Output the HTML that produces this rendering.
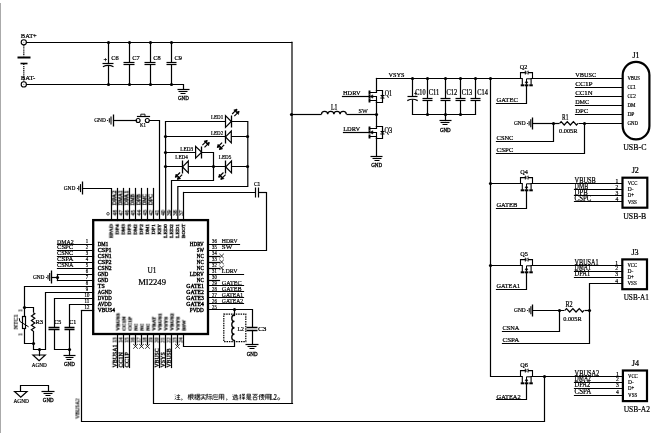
<!DOCTYPE html>
<html><head><meta charset="utf-8"><style>
html,body{margin:0;padding:0;background:#fff;}
svg{display:block;}
text{will-change:transform;}
text{font-family:"Liberation Serif",serif;stroke:#000;stroke-width:0.24px;}
</style></head><body>
<svg width="654" height="433" viewBox="0 0 654 433">
<rect width="654" height="433" fill="#fff"/>
<rect x="0" y="3" width="1" height="430" fill="#aaa"/>
<circle cx="23.8" cy="42.3" r="2.6" fill="none" stroke="#000" stroke-width="1.1"/>
<circle cx="23.8" cy="42.3" r="0.6" fill="#888"/>
<circle cx="23.8" cy="84.4" r="2.6" fill="none" stroke="#000" stroke-width="1.1"/>
<circle cx="23.8" cy="84.4" r="0.6" fill="#888"/>
<path d="M23.8 45.2 L23.8 56.2" stroke="#000" stroke-width="1.2" fill="none" stroke-linecap="butt" stroke-dasharray="1.3 0.8"/>
<path d="M23.8 63.8 L23.8 81.6" stroke="#000" stroke-width="1.2" fill="none" stroke-linecap="butt" stroke-dasharray="1.3 0.8"/>
<path d="M17.5 57.5 L30.5 57.5" stroke="#000" stroke-width="2" fill="none" stroke-linecap="butt" />
<path d="M20.5 63.5 L27.5 63.5" stroke="#000" stroke-width="1.6" fill="none" stroke-linecap="butt" />
<text x="20.8" y="38.2" font-size="7" text-anchor="start" fill="#000" textLength="16" lengthAdjust="spacingAndGlyphs">BAT+</text>
<text x="20.8" y="80.2" font-size="7" text-anchor="start" fill="#000" textLength="14.5" lengthAdjust="spacingAndGlyphs">BAT-</text>
<path d="M26.5 42.5 L291.5 42.5" stroke="#000" stroke-width="1.2" fill="none" stroke-linecap="square" />
<path d="M26.5 84.5 L183.5 84.5 L183.5 89.5" stroke="#000" stroke-width="1.2" fill="none" stroke-linecap="square" />
<path d="M177.5 89.5 L189.5 89.5" stroke="#000" stroke-width="1.2" fill="none" stroke-linecap="butt" />
<path d="M178.5 91.5 L187.5 91.5" stroke="#000" stroke-width="1.1" fill="none" stroke-linecap="butt" />
<path d="M180.5 93.5 L185.5 93.5" stroke="#000" stroke-width="1" fill="none" stroke-linecap="butt" />
<text x="183.4" y="100.1" font-size="5.2" text-anchor="middle" fill="#000" textLength="10.8" lengthAdjust="spacingAndGlyphs" style="stroke-width:0.3px">GND</text>
<path d="M108.5 42.5 L108.5 63.5" stroke="#000" stroke-width="1.2" fill="none" stroke-linecap="butt" />
<path d="M108.5 65.5 L108.5 84.5" stroke="#000" stroke-width="1.2" fill="none" stroke-linecap="butt" />
<path d="M102.5 63.5 L113.5 63.5" stroke="#000" stroke-width="1.2" fill="none" stroke-linecap="butt" />
<path d="M102.9 66.8 Q108.2 64 113.5 66.8" stroke="#000" stroke-width="1.2" fill="none" />
<circle cx="108.5" cy="42.5" r="1.6" fill="#000"/>
<circle cx="108.5" cy="84.5" r="1.6" fill="#000"/>
<text x="111.2" y="59.8" font-size="6.6" text-anchor="start" fill="#000" textLength="7.4" lengthAdjust="spacingAndGlyphs">C6</text>
<path d="M129.5 42.5 L129.5 62.5" stroke="#000" stroke-width="1.2" fill="none" stroke-linecap="butt" />
<path d="M129.5 64.5 L129.5 84.5" stroke="#000" stroke-width="1.2" fill="none" stroke-linecap="butt" />
<path d="M123.5 62.5 L134.5 62.5" stroke="#000" stroke-width="1.2" fill="none" stroke-linecap="butt" />
<path d="M123.5 64.5 L134.5 64.5" stroke="#000" stroke-width="1.2" fill="none" stroke-linecap="butt" />
<circle cx="129.5" cy="42.5" r="1.6" fill="#000"/>
<circle cx="129.5" cy="84.5" r="1.6" fill="#000"/>
<text x="132.2" y="59.8" font-size="6.6" text-anchor="start" fill="#000" textLength="7.4" lengthAdjust="spacingAndGlyphs">C7</text>
<path d="M150.5 42.5 L150.5 62.5" stroke="#000" stroke-width="1.2" fill="none" stroke-linecap="butt" />
<path d="M150.5 64.5 L150.5 84.5" stroke="#000" stroke-width="1.2" fill="none" stroke-linecap="butt" />
<path d="M144.5 62.5 L155.5 62.5" stroke="#000" stroke-width="1.2" fill="none" stroke-linecap="butt" />
<path d="M144.5 64.5 L155.5 64.5" stroke="#000" stroke-width="1.2" fill="none" stroke-linecap="butt" />
<circle cx="150.5" cy="42.5" r="1.6" fill="#000"/>
<circle cx="150.5" cy="84.5" r="1.6" fill="#000"/>
<text x="153.2" y="59.8" font-size="6.6" text-anchor="start" fill="#000" textLength="7.4" lengthAdjust="spacingAndGlyphs">C8</text>
<path d="M171.5 42.5 L171.5 62.5" stroke="#000" stroke-width="1.2" fill="none" stroke-linecap="butt" />
<path d="M171.5 64.5 L171.5 84.5" stroke="#000" stroke-width="1.2" fill="none" stroke-linecap="butt" />
<path d="M166.5 62.5 L176.5 62.5" stroke="#000" stroke-width="1.2" fill="none" stroke-linecap="butt" />
<path d="M166.5 64.5 L176.5 64.5" stroke="#000" stroke-width="1.2" fill="none" stroke-linecap="butt" />
<circle cx="171.5" cy="42.5" r="1.6" fill="#000"/>
<circle cx="171.5" cy="84.5" r="1.6" fill="#000"/>
<text x="174.6" y="59.8" font-size="6.6" text-anchor="start" fill="#000" textLength="7.4" lengthAdjust="spacingAndGlyphs">C9</text>
<text x="105.3" y="62.4" font-size="6.6" text-anchor="middle" fill="#000">+</text>
<path d="M291.7 42.3 L292 42.3" stroke="#000" stroke-width="1.2" fill="none" stroke-linecap="square" />
<path d="M292 42.5 L292 403.5" stroke="#000" stroke-width="1.2" fill="none" stroke-linecap="butt" />
<path d="M292.5 403.5 L153.5 403.5 L153.5 334.5" stroke="#000" stroke-width="1.2" fill="none" stroke-linecap="square" />
<path d="M291.5 114.5 L321.5 114.5" stroke="#000" stroke-width="1.2" fill="none" stroke-linecap="butt" />
<path d="M321.5 114.2 C321.5 110.3 327.7 110.3 327.7 114.2 C327.7 110.3 333.9 110.3 333.9 114.2 C333.9 110.3 340.1 110.3 340.1 114.2 C340.1 110.3 346.3 110.3 346.3 114.2" stroke="#000" stroke-width="1.3" fill="none" />
<path d="M346.5 114.5 L376.5 114.5" stroke="#000" stroke-width="1.2" fill="none" stroke-linecap="butt" />
<circle cx="291.5" cy="114.5" r="1.6" fill="#000"/>
<circle cx="376.5" cy="114.5" r="1.6" fill="#000"/>
<text x="331" y="109.8" font-size="7.2" text-anchor="start" fill="#000" textLength="6.4" lengthAdjust="spacingAndGlyphs">L1</text>
<text x="358.5" y="113.4" font-size="7" text-anchor="start" fill="#000" textLength="9.2" lengthAdjust="spacingAndGlyphs">SW</text>
<path d="M376.5 78.5 L376.5 90.5" stroke="#000" stroke-width="1.2" fill="none" stroke-linecap="square" />
<path d="M376.5 90.5 L382.5 90.5 L382.5 102.5 L376.5 102.5" stroke="#000" stroke-width="1.2" fill="none" stroke-linecap="square" />
<path d="M369.5 92.5 L376.5 92.5 L376.5 90.5" stroke="#000" stroke-width="1.2" fill="none" stroke-linecap="square" />
<path d="M369.5 100.5 L376.5 100.5 L376.5 102.5" stroke="#000" stroke-width="1.2" fill="none" stroke-linecap="square" />
<path d="M371.5 96.5 L376.5 96.5 L376.5 102.5" stroke="#000" stroke-width="1.1" fill="none" stroke-linecap="square" />
<path d="M370 96.5 L372.8 94.9 L372.8 98.1 Z" stroke="#000" stroke-width="0.6" fill="#000" />
<path d="M369.5 90.5 L369.5 94.5" stroke="#000" stroke-width="1.9" fill="none" stroke-linecap="butt" />
<path d="M369.5 94.5 L369.5 98.5" stroke="#000" stroke-width="1.9" fill="none" stroke-linecap="butt" />
<path d="M369.5 98.5 L369.5 102.5" stroke="#000" stroke-width="1.9" fill="none" stroke-linecap="butt" />
<path d="M380.5 95.5 L384.5 95.5" stroke="#000" stroke-width="1.1" fill="none" stroke-linecap="butt" />
<path d="M380.6 98.3 L384.2 98.3 L382.4 95.7 Z" stroke="#000" stroke-width="0.7" fill="none" />
<path d="M376.5 102.5 L376.5 126.5" stroke="#000" stroke-width="1.2" fill="none" stroke-linecap="square" />
<path d="M376.5 126.5 L382.5 126.5 L382.5 138.5 L376.5 138.5" stroke="#000" stroke-width="1.2" fill="none" stroke-linecap="square" />
<path d="M369.5 128.5 L376.5 128.5 L376.5 126.5" stroke="#000" stroke-width="1.2" fill="none" stroke-linecap="square" />
<path d="M369.5 136.5 L376.5 136.5 L376.5 138.5" stroke="#000" stroke-width="1.2" fill="none" stroke-linecap="square" />
<path d="M371.5 132.5 L376.5 132.5 L376.5 138.5" stroke="#000" stroke-width="1.1" fill="none" stroke-linecap="square" />
<path d="M370 132.4 L372.8 130.8 L372.8 134 Z" stroke="#000" stroke-width="0.6" fill="#000" />
<path d="M369.5 126.5 L369.5 130.5" stroke="#000" stroke-width="1.9" fill="none" stroke-linecap="butt" />
<path d="M369.5 130.5 L369.5 133.5" stroke="#000" stroke-width="1.9" fill="none" stroke-linecap="butt" />
<path d="M369.5 134.5 L369.5 138.5" stroke="#000" stroke-width="1.9" fill="none" stroke-linecap="butt" />
<path d="M380.5 131.5 L384.5 131.5" stroke="#000" stroke-width="1.1" fill="none" stroke-linecap="butt" />
<path d="M380.6 134.2 L384.2 134.2 L382.4 131.6 Z" stroke="#000" stroke-width="0.7" fill="none" />
<path d="M376.5 138.5 L376.5 156.5" stroke="#000" stroke-width="1.2" fill="none" stroke-linecap="square" />
<path d="M370.5 156.5 L382.5 156.5" stroke="#000" stroke-width="1.2" fill="none" stroke-linecap="butt" />
<path d="M372.5 158.5 L381.5 158.5" stroke="#000" stroke-width="1.1" fill="none" stroke-linecap="butt" />
<path d="M374.5 160.5 L379.5 160.5" stroke="#000" stroke-width="1" fill="none" stroke-linecap="butt" />
<text x="376.6" y="167.1" font-size="5.2" text-anchor="middle" fill="#000" textLength="10.8" lengthAdjust="spacingAndGlyphs" style="stroke-width:0.3px">GND</text>
<path d="M342.5 96.5 L368.5 96.5" stroke="#000" stroke-width="1.2" fill="none" stroke-linecap="square" />
<path d="M343.5 132.5 L368.5 132.5" stroke="#000" stroke-width="1.2" fill="none" stroke-linecap="square" />
<text x="343" y="95" font-size="6.9" text-anchor="start" fill="#000" textLength="17.5" lengthAdjust="spacingAndGlyphs">HDRV</text>
<text x="343.2" y="131" font-size="6.9" text-anchor="start" fill="#000" textLength="17" lengthAdjust="spacingAndGlyphs">LDRV</text>
<text x="384.8" y="96.2" font-size="7.3" text-anchor="start" fill="#000" textLength="7.2" lengthAdjust="spacingAndGlyphs">Q1</text>
<text x="384.6" y="132.6" font-size="7.3" text-anchor="start" fill="#000" textLength="7.6" lengthAdjust="spacingAndGlyphs">Q3</text>
<path d="M376.5 78.5 L622.5 78.5" stroke="#000" stroke-width="1.2" fill="none" stroke-linecap="square" />
<text x="388.5" y="77" font-size="7" text-anchor="start" fill="#000" textLength="16" lengthAdjust="spacingAndGlyphs">VSYS</text>
<path d="M412.5 78.5 L412.5 96.5" stroke="#000" stroke-width="1.2" fill="none" stroke-linecap="butt" />
<path d="M412.5 99.5 L412.5 114.5" stroke="#000" stroke-width="1.2" fill="none" stroke-linecap="butt" />
<path d="M407.5 96.5 L417.5 96.5" stroke="#000" stroke-width="1.2" fill="none" stroke-linecap="butt" />
<path d="M407.3 100.65 Q412.5 97.85 417.7 100.65" stroke="#000" stroke-width="1.2" fill="none" />
<circle cx="412.5" cy="78.5" r="1.6" fill="#000"/>
<path d="M427.5 78.5 L427.5 98.5" stroke="#000" stroke-width="1.2" fill="none" stroke-linecap="butt" />
<path d="M427.5 100.5 L427.5 114.5" stroke="#000" stroke-width="1.2" fill="none" stroke-linecap="butt" />
<path d="M422.5 98.5 L432.5 98.5" stroke="#000" stroke-width="1.2" fill="none" stroke-linecap="butt" />
<path d="M422.5 100.5 L432.5 100.5" stroke="#000" stroke-width="1.2" fill="none" stroke-linecap="butt" />
<circle cx="427.5" cy="78.5" r="1.6" fill="#000"/>
<circle cx="427.5" cy="114.5" r="1.6" fill="#000"/>
<path d="M445.5 78.5 L445.5 98.5" stroke="#000" stroke-width="1.2" fill="none" stroke-linecap="butt" />
<path d="M445.5 100.5 L445.5 114.5" stroke="#000" stroke-width="1.2" fill="none" stroke-linecap="butt" />
<path d="M440.5 98.5 L450.5 98.5" stroke="#000" stroke-width="1.2" fill="none" stroke-linecap="butt" />
<path d="M440.5 100.5 L450.5 100.5" stroke="#000" stroke-width="1.2" fill="none" stroke-linecap="butt" />
<circle cx="445.5" cy="78.5" r="1.6" fill="#000"/>
<circle cx="445.5" cy="114.5" r="1.6" fill="#000"/>
<path d="M460.5 78.5 L460.5 98.5" stroke="#000" stroke-width="1.2" fill="none" stroke-linecap="butt" />
<path d="M460.5 100.5 L460.5 114.5" stroke="#000" stroke-width="1.2" fill="none" stroke-linecap="butt" />
<path d="M455.5 98.5 L465.5 98.5" stroke="#000" stroke-width="1.2" fill="none" stroke-linecap="butt" />
<path d="M455.5 100.5 L465.5 100.5" stroke="#000" stroke-width="1.2" fill="none" stroke-linecap="butt" />
<circle cx="460.5" cy="78.5" r="1.6" fill="#000"/>
<circle cx="460.5" cy="114.5" r="1.6" fill="#000"/>
<path d="M475.5 78.5 L475.5 98.5" stroke="#000" stroke-width="1.2" fill="none" stroke-linecap="butt" />
<path d="M475.5 100.5 L475.5 114.5" stroke="#000" stroke-width="1.2" fill="none" stroke-linecap="butt" />
<path d="M470.5 98.5 L480.5 98.5" stroke="#000" stroke-width="1.2" fill="none" stroke-linecap="butt" />
<path d="M470.5 100.5 L480.5 100.5" stroke="#000" stroke-width="1.2" fill="none" stroke-linecap="butt" />
<circle cx="475.5" cy="78.5" r="1.6" fill="#000"/>
<path d="M412.5 114.5 L475.5 114.5" stroke="#000" stroke-width="1.2" fill="none" stroke-linecap="square" />
<path d="M445.5 114.5 L445.5 120.5" stroke="#000" stroke-width="1.2" fill="none" stroke-linecap="square" />
<path d="M439.5 120.5 L451.5 120.5" stroke="#000" stroke-width="1.2" fill="none" stroke-linecap="butt" />
<path d="M440.5 122.5 L449.5 122.5" stroke="#000" stroke-width="1.1" fill="none" stroke-linecap="butt" />
<path d="M442.5 124.5 L447.5 124.5" stroke="#000" stroke-width="1" fill="none" stroke-linecap="butt" />
<text x="445.3" y="131.5" font-size="5.2" text-anchor="middle" fill="#000" textLength="10.8" lengthAdjust="spacingAndGlyphs" style="stroke-width:0.3px">GND</text>
<text x="415.2" y="95.3" font-size="7.4" text-anchor="start" fill="#000" textLength="10.4" lengthAdjust="spacingAndGlyphs">C10</text>
<text x="428.7" y="95.3" font-size="7.4" text-anchor="start" fill="#000" textLength="10.6" lengthAdjust="spacingAndGlyphs">C11</text>
<text x="446.6" y="95.3" font-size="7.4" text-anchor="start" fill="#000" textLength="10.6" lengthAdjust="spacingAndGlyphs">C12</text>
<text x="461.7" y="95.3" font-size="7.4" text-anchor="start" fill="#000" textLength="10.6" lengthAdjust="spacingAndGlyphs">C13</text>
<text x="477.3" y="95.3" font-size="7.4" text-anchor="start" fill="#000" textLength="10.6" lengthAdjust="spacingAndGlyphs">C14</text>
<text x="415.6" y="95.6" font-size="6" text-anchor="middle" fill="#000" style="stroke-width:0.2px">+</text>
<path d="M490.5 78.5 L490.5 376.5 L622.5 376.5" stroke="#000" stroke-width="1.2" fill="none" stroke-linecap="square" />
<circle cx="490.5" cy="78.5" r="1.6" fill="#000"/>
<circle cx="490.5" cy="183.5" r="1.6" fill="#000"/>
<circle cx="490.5" cy="265.5" r="1.6" fill="#000"/>
<rect x="521.2" y="77.6" width="10.6" height="1.8" fill="#fff"/>
<path d="M520.5 78.5 L520.5 72.6 L525.1 72.6" stroke="#000" stroke-width="1.1" fill="none" stroke-linecap="square" />
<path d="M528.3 72.6 L532.5 72.6 L532.5 78.5" stroke="#000" stroke-width="1.1" fill="none" stroke-linecap="square" />
<path d="M525.3 70.7 L525.3 74.5" stroke="#000" stroke-width="1" fill="none" stroke-linecap="butt" />
<path d="M525.5 72.6 L528.3 70.9 L528.3 74.3 Z" stroke="#000" stroke-width="0.6" fill="none" />
<path d="M520.5 78.5 L522.3 78.5 L522.3 84.7" stroke="#000" stroke-width="1.1" fill="none" stroke-linecap="butt" />
<path d="M532.5 78.5 L531.1 78.5 L531.1 84.7" stroke="#000" stroke-width="1.1" fill="none" stroke-linecap="butt" />
<path d="M531.1 78.8 L526.5 78.8 L526.5 84.7" stroke="#000" stroke-width="1" fill="none" stroke-linecap="butt" />
<path d="M526.5 80.5 L525.1 82.9 L527.9 82.9 Z" stroke="#000" stroke-width="0.5" fill="#000" />
<path d="M520.7 85.3 L524.1 85.3" stroke="#000" stroke-width="2" fill="none" stroke-linecap="butt" />
<path d="M524.6 85.3 L528.4 85.3" stroke="#000" stroke-width="2" fill="none" stroke-linecap="butt" />
<path d="M529.3 85.3 L532.8 85.3" stroke="#000" stroke-width="2" fill="none" stroke-linecap="butt" />
<path d="M526.5 86.5 L526.5 103.5 L496.5 103.5" stroke="#000" stroke-width="1.2" fill="none" stroke-linecap="square" />
<text x="523.6" y="68.6" font-size="6.9" text-anchor="middle" fill="#000" textLength="7.6" lengthAdjust="spacingAndGlyphs">Q2</text>
<text x="496.6" y="101.6" font-size="7.1" text-anchor="start" fill="#000" textLength="21.2" lengthAdjust="spacingAndGlyphs">GATEC</text>
<path d="M575.5 87.5 L622.5 87.5" stroke="#000" stroke-width="1.2" fill="none" stroke-linecap="square" />
<path d="M575.5 96.5 L622.5 96.5" stroke="#000" stroke-width="1.2" fill="none" stroke-linecap="square" />
<path d="M575.5 105.5 L622.5 105.5" stroke="#000" stroke-width="1.2" fill="none" stroke-linecap="square" />
<path d="M575.5 114.5 L622.5 114.5" stroke="#000" stroke-width="1.2" fill="none" stroke-linecap="square" />
<text x="575.2" y="76.9" font-size="7.1" text-anchor="start" fill="#000" textLength="21" lengthAdjust="spacingAndGlyphs">VBUSC</text>
<text x="575.2" y="85.8" font-size="7.1" text-anchor="start" fill="#000" textLength="17.5" lengthAdjust="spacingAndGlyphs">CC1P</text>
<text x="575.2" y="94.7" font-size="7.1" text-anchor="start" fill="#000" textLength="17.5" lengthAdjust="spacingAndGlyphs">CC1N</text>
<text x="575.2" y="103.8" font-size="7.1" text-anchor="start" fill="#000" textLength="14" lengthAdjust="spacingAndGlyphs">DMC</text>
<text x="575.2" y="112.9" font-size="7.1" text-anchor="start" fill="#000" textLength="13" lengthAdjust="spacingAndGlyphs">DPC</text>
<rect x="622.7" y="61.8" width="26.7" height="77.6" rx="13.3" ry="13.3" fill="none" stroke="#000" stroke-width="2.2"/>
<text x="636" y="58.4" font-size="8" text-anchor="middle" fill="#000" textLength="7" lengthAdjust="spacingAndGlyphs">J1</text>
<text x="634.8" y="149.5" font-size="8.8" text-anchor="middle" fill="#000" textLength="23.2" lengthAdjust="spacingAndGlyphs">USB-C</text>
<text x="627.4" y="80.1" font-size="5.4" text-anchor="start" fill="#000" textLength="12.5" lengthAdjust="spacingAndGlyphs" style="stroke-width:0.2px">VBUS</text>
<text x="627.4" y="89" font-size="5.4" text-anchor="start" fill="#000" textLength="8.5" lengthAdjust="spacingAndGlyphs" style="stroke-width:0.2px">CC1</text>
<text x="627.4" y="97.9" font-size="5.4" text-anchor="start" fill="#000" textLength="8.5" lengthAdjust="spacingAndGlyphs" style="stroke-width:0.2px">CC2</text>
<text x="627.4" y="107" font-size="5.4" text-anchor="start" fill="#000" textLength="8" lengthAdjust="spacingAndGlyphs" style="stroke-width:0.2px">DM</text>
<text x="627.4" y="116.1" font-size="5.4" text-anchor="start" fill="#000" textLength="7" lengthAdjust="spacingAndGlyphs" style="stroke-width:0.2px">DP</text>
<text x="627.4" y="125.1" font-size="5.4" text-anchor="start" fill="#000" textLength="10.5" lengthAdjust="spacingAndGlyphs" style="stroke-width:0.2px">GND</text>
<path d="M532.5 117.5 L532.5 129.5" stroke="#000" stroke-width="1.3" fill="none" stroke-linecap="butt" />
<path d="M530.8 119.3 L530.8 127.3" stroke="#000" stroke-width="1.1" fill="none" stroke-linecap="butt" />
<path d="M529.1 121.1 L529.1 125.5" stroke="#000" stroke-width="1" fill="none" stroke-linecap="butt" />
<circle cx="527.5" cy="123.5" r="0.6" fill="#000"/>
<text x="525.6" y="125.3" font-size="5.5" text-anchor="end" fill="#000" textLength="11.6" lengthAdjust="spacingAndGlyphs" style="stroke-width:0.2px">GND</text>
<path d="M532.5 123.5 L559.5 123.5" stroke="#000" stroke-width="1.2" fill="none" stroke-linecap="butt" />
<path d="M559.6 123.3 L561.13 121.6 L564.2 125 L567.27 121.6 L570.33 125 L573.4 121.6 L576.47 125 L578 123.3" stroke="#000" stroke-width="1.2" fill="none" stroke-linecap="butt" stroke-linejoin="miter"/>
<path d="M578.5 123.5 L622.5 123.5" stroke="#000" stroke-width="1.2" fill="none" stroke-linecap="butt" />
<circle cx="553.5" cy="123.5" r="1.6" fill="#000"/>
<circle cx="584.5" cy="123.5" r="1.6" fill="#000"/>
<text x="565.2" y="120.4" font-size="7.6" text-anchor="middle" fill="#000" textLength="6.4" lengthAdjust="spacingAndGlyphs">R1</text>
<text x="568.2" y="133.2" font-size="7" text-anchor="middle" fill="#000" textLength="18.4" lengthAdjust="spacingAndGlyphs">0.005R</text>
<path d="M496.5 141.5 L553.5 141.5 L553.5 123.5" stroke="#000" stroke-width="1.2" fill="none" stroke-linecap="square" />
<path d="M496.5 153.5 L584.5 153.5 L584.5 123.5" stroke="#000" stroke-width="1.2" fill="none" stroke-linecap="square" />
<text x="496.6" y="140.1" font-size="7.1" text-anchor="start" fill="#000" textLength="16.8" lengthAdjust="spacingAndGlyphs">CSNC</text>
<text x="496.6" y="152.3" font-size="7.1" text-anchor="start" fill="#000" textLength="16.8" lengthAdjust="spacingAndGlyphs">CSPC</text>
<path d="M490.5 183.5 L622.5 183.5" stroke="#000" stroke-width="1.2" fill="none" stroke-linecap="square" />
<rect x="521.2" y="182.6" width="10.6" height="1.8" fill="#fff"/>
<path d="M520.5 183.5 L520.5 177.6 L525.1 177.6" stroke="#000" stroke-width="1.1" fill="none" stroke-linecap="square" />
<path d="M528.3 177.6 L532.5 177.6 L532.5 183.5" stroke="#000" stroke-width="1.1" fill="none" stroke-linecap="square" />
<path d="M525.3 175.7 L525.3 179.5" stroke="#000" stroke-width="1" fill="none" stroke-linecap="butt" />
<path d="M525.5 177.6 L528.3 175.9 L528.3 179.3 Z" stroke="#000" stroke-width="0.6" fill="none" />
<path d="M520.5 183.5 L522.3 183.5 L522.3 189.7" stroke="#000" stroke-width="1.1" fill="none" stroke-linecap="butt" />
<path d="M532.5 183.5 L531.1 183.5 L531.1 189.7" stroke="#000" stroke-width="1.1" fill="none" stroke-linecap="butt" />
<path d="M531.1 183.8 L526.5 183.8 L526.5 189.7" stroke="#000" stroke-width="1" fill="none" stroke-linecap="butt" />
<path d="M526.5 185.5 L525.1 187.9 L527.9 187.9 Z" stroke="#000" stroke-width="0.5" fill="#000" />
<path d="M520.7 190.3 L524.1 190.3" stroke="#000" stroke-width="2" fill="none" stroke-linecap="butt" />
<path d="M524.6 190.3 L528.4 190.3" stroke="#000" stroke-width="2" fill="none" stroke-linecap="butt" />
<path d="M529.3 190.3 L532.8 190.3" stroke="#000" stroke-width="2" fill="none" stroke-linecap="butt" />
<path d="M526.5 191.5 L526.5 208.5 L496.5 208.5" stroke="#000" stroke-width="1.2" fill="none" stroke-linecap="square" />
<text x="524" y="174" font-size="6.9" text-anchor="middle" fill="#000" textLength="7.6" lengthAdjust="spacingAndGlyphs">Q4</text>
<text x="496.4" y="206.9" font-size="7.1" text-anchor="start" fill="#000" textLength="21" lengthAdjust="spacingAndGlyphs">GATEB</text>
<path d="M574.5 189.5 L622.5 189.5" stroke="#000" stroke-width="1.2" fill="none" stroke-linecap="square" />
<path d="M574.5 195.5 L622.5 195.5" stroke="#000" stroke-width="1.2" fill="none" stroke-linecap="square" />
<path d="M574.5 201.5 L622.5 201.5" stroke="#000" stroke-width="1.2" fill="none" stroke-linecap="square" />
<text x="574.6" y="182.8" font-size="7.5" text-anchor="start" fill="#000" textLength="21.2" lengthAdjust="spacingAndGlyphs">VBUSB</text>
<text x="574.6" y="188.7" font-size="7.5" text-anchor="start" fill="#000" textLength="13.6" lengthAdjust="spacingAndGlyphs">DMB</text>
<text x="574.6" y="194.8" font-size="7.5" text-anchor="start" fill="#000" textLength="13.2" lengthAdjust="spacingAndGlyphs">DPB</text>
<text x="574.6" y="201" font-size="7.5" text-anchor="start" fill="#000" textLength="16.8" lengthAdjust="spacingAndGlyphs">CSPC</text>
<rect x="622.5" y="177.7" width="24.8" height="30" fill="none" stroke="#000" stroke-width="2.2"/>
<text x="635.3" y="172.9" font-size="8.2" text-anchor="middle" fill="#000" textLength="7.2" lengthAdjust="spacingAndGlyphs">J2</text>
<text x="634.7" y="218.9" font-size="9" text-anchor="middle" fill="#000" textLength="23" lengthAdjust="spacingAndGlyphs">USB-B</text>
<text x="627.7" y="185.4" font-size="5.6" text-anchor="start" fill="#000" textLength="9.6" lengthAdjust="spacingAndGlyphs" style="stroke-width:0.2px">VCC</text>
<text x="627.7" y="191.3" font-size="5.6" text-anchor="start" fill="#000" textLength="5.8" lengthAdjust="spacingAndGlyphs" style="stroke-width:0.2px">D-</text>
<text x="627.7" y="197.4" font-size="5.6" text-anchor="start" fill="#000" textLength="6.2" lengthAdjust="spacingAndGlyphs" style="stroke-width:0.2px">D+</text>
<text x="627.7" y="203.6" font-size="5.6" text-anchor="start" fill="#000" textLength="9.2" lengthAdjust="spacingAndGlyphs" style="stroke-width:0.2px">VSS</text>
<text x="616.9" y="182.8" font-size="5.6" text-anchor="middle" fill="#000" style="stroke-width:0.2px">1</text>
<text x="616.9" y="188.7" font-size="5.6" text-anchor="middle" fill="#000" style="stroke-width:0.2px">2</text>
<text x="616.9" y="194.8" font-size="5.6" text-anchor="middle" fill="#000" style="stroke-width:0.2px">3</text>
<text x="616.9" y="201" font-size="5.6" text-anchor="middle" fill="#000" style="stroke-width:0.2px">4</text>
<path d="M490.5 265.5 L622.5 265.5" stroke="#000" stroke-width="1.2" fill="none" stroke-linecap="square" />
<rect x="521.2" y="264.6" width="10.6" height="1.8" fill="#fff"/>
<path d="M520.5 265.5 L520.5 259.6 L525.1 259.6" stroke="#000" stroke-width="1.1" fill="none" stroke-linecap="square" />
<path d="M528.3 259.6 L532.5 259.6 L532.5 265.5" stroke="#000" stroke-width="1.1" fill="none" stroke-linecap="square" />
<path d="M525.3 257.7 L525.3 261.5" stroke="#000" stroke-width="1" fill="none" stroke-linecap="butt" />
<path d="M525.5 259.6 L528.3 257.9 L528.3 261.3 Z" stroke="#000" stroke-width="0.6" fill="none" />
<path d="M520.5 265.5 L522.3 265.5 L522.3 271.7" stroke="#000" stroke-width="1.1" fill="none" stroke-linecap="butt" />
<path d="M532.5 265.5 L531.1 265.5 L531.1 271.7" stroke="#000" stroke-width="1.1" fill="none" stroke-linecap="butt" />
<path d="M531.1 265.8 L526.5 265.8 L526.5 271.7" stroke="#000" stroke-width="1" fill="none" stroke-linecap="butt" />
<path d="M526.5 267.5 L525.1 269.9 L527.9 269.9 Z" stroke="#000" stroke-width="0.5" fill="#000" />
<path d="M520.7 272.3 L524.1 272.3" stroke="#000" stroke-width="2" fill="none" stroke-linecap="butt" />
<path d="M524.6 272.3 L528.4 272.3" stroke="#000" stroke-width="2" fill="none" stroke-linecap="butt" />
<path d="M529.3 272.3 L532.8 272.3" stroke="#000" stroke-width="2" fill="none" stroke-linecap="butt" />
<path d="M526.5 273.5 L526.5 289.5 L496.5 289.5" stroke="#000" stroke-width="1.2" fill="none" stroke-linecap="square" />
<text x="524" y="255.6" font-size="6.9" text-anchor="middle" fill="#000" textLength="7.6" lengthAdjust="spacingAndGlyphs">Q5</text>
<text x="496.5" y="287.8" font-size="7.1" text-anchor="start" fill="#000" textLength="23.5" lengthAdjust="spacingAndGlyphs">GATEA1</text>
<path d="M574.5 271.5 L622.5 271.5" stroke="#000" stroke-width="1.2" fill="none" stroke-linecap="square" />
<path d="M574.5 277.5 L622.5 277.5" stroke="#000" stroke-width="1.2" fill="none" stroke-linecap="square" />
<path d="M622.5 283.5 L589.5 283.5 L589.5 343.5 L502.5 343.5" stroke="#000" stroke-width="1.2" fill="none" stroke-linecap="square" />
<text x="574.6" y="264.5" font-size="7.5" text-anchor="start" fill="#000" textLength="24" lengthAdjust="spacingAndGlyphs">VBUSA1</text>
<text x="574.6" y="270.4" font-size="7.5" text-anchor="start" fill="#000" textLength="16.2" lengthAdjust="spacingAndGlyphs">DMA1</text>
<text x="574.6" y="276.4" font-size="7.5" text-anchor="start" fill="#000" textLength="15.6" lengthAdjust="spacingAndGlyphs">DPA1</text>
<rect x="622.3" y="259.4" width="24.7" height="29.8" fill="none" stroke="#000" stroke-width="2.2"/>
<text x="635.05" y="254.6" font-size="8.2" text-anchor="middle" fill="#000" textLength="7.2" lengthAdjust="spacingAndGlyphs">J3</text>
<text x="636.3" y="300.4" font-size="9" text-anchor="middle" fill="#000" textLength="25.3" lengthAdjust="spacingAndGlyphs">USB-A1</text>
<text x="627.5" y="267.1" font-size="5.6" text-anchor="start" fill="#000" textLength="9.6" lengthAdjust="spacingAndGlyphs" style="stroke-width:0.2px">VCC</text>
<text x="627.5" y="273" font-size="5.6" text-anchor="start" fill="#000" textLength="5.8" lengthAdjust="spacingAndGlyphs" style="stroke-width:0.2px">D-</text>
<text x="627.5" y="279" font-size="5.6" text-anchor="start" fill="#000" textLength="6.2" lengthAdjust="spacingAndGlyphs" style="stroke-width:0.2px">D+</text>
<text x="627.5" y="285.1" font-size="5.6" text-anchor="start" fill="#000" textLength="9.2" lengthAdjust="spacingAndGlyphs" style="stroke-width:0.2px">VSS</text>
<text x="616.7" y="264.5" font-size="5.6" text-anchor="middle" fill="#000" style="stroke-width:0.2px">1</text>
<text x="616.7" y="270.4" font-size="5.6" text-anchor="middle" fill="#000" style="stroke-width:0.2px">2</text>
<text x="616.7" y="276.4" font-size="5.6" text-anchor="middle" fill="#000" style="stroke-width:0.2px">3</text>
<text x="616.7" y="282.5" font-size="5.6" text-anchor="middle" fill="#000" style="stroke-width:0.2px">4</text>
<path d="M532.5 304.5 L532.5 316.5" stroke="#000" stroke-width="1.3" fill="none" stroke-linecap="butt" />
<path d="M530.9 306.3 L530.9 314.3" stroke="#000" stroke-width="1.1" fill="none" stroke-linecap="butt" />
<path d="M529.2 308.1 L529.2 312.5" stroke="#000" stroke-width="1" fill="none" stroke-linecap="butt" />
<circle cx="527.5" cy="310.5" r="0.6" fill="#000"/>
<text x="525.7" y="312.3" font-size="5.5" text-anchor="end" fill="#000" textLength="11.6" lengthAdjust="spacingAndGlyphs" style="stroke-width:0.2px">GND</text>
<path d="M532.5 310.5 L564.5 310.5" stroke="#000" stroke-width="1.2" fill="none" stroke-linecap="butt" />
<path d="M564.9 310.3 L566.49 308.6 L569.67 312 L572.86 308.6 L576.04 312 L579.23 308.6 L582.41 312 L584 310.3" stroke="#000" stroke-width="1.2" fill="none" stroke-linecap="butt" stroke-linejoin="miter"/>
<path d="M584.5 310.5 L589.5 310.5" stroke="#000" stroke-width="1.2" fill="none" stroke-linecap="butt" />
<circle cx="559.5" cy="310.5" r="1.6" fill="#000"/>
<circle cx="589.5" cy="310.5" r="1.6" fill="#000"/>
<text x="569" y="306.7" font-size="7.6" text-anchor="middle" fill="#000" textLength="7.2" lengthAdjust="spacingAndGlyphs">R2</text>
<text x="572.4" y="321.4" font-size="7" text-anchor="middle" fill="#000" textLength="18.4" lengthAdjust="spacingAndGlyphs">0.005R</text>
<path d="M502.5 331.5 L559.5 331.5 L559.5 310.5" stroke="#000" stroke-width="1.2" fill="none" stroke-linecap="square" />
<text x="502.6" y="329.6" font-size="7.1" text-anchor="start" fill="#000" textLength="16.8" lengthAdjust="spacingAndGlyphs">CSNA</text>
<text x="502.6" y="342" font-size="7.1" text-anchor="start" fill="#000" textLength="16.8" lengthAdjust="spacingAndGlyphs">CSPA</text>
<rect x="521.2" y="375.6" width="10.6" height="1.8" fill="#fff"/>
<path d="M520.5 376.5 L520.5 370.6 L525.1 370.6" stroke="#000" stroke-width="1.1" fill="none" stroke-linecap="square" />
<path d="M528.3 370.6 L532.5 370.6 L532.5 376.5" stroke="#000" stroke-width="1.1" fill="none" stroke-linecap="square" />
<path d="M525.3 368.7 L525.3 372.5" stroke="#000" stroke-width="1" fill="none" stroke-linecap="butt" />
<path d="M525.5 370.6 L528.3 368.9 L528.3 372.3 Z" stroke="#000" stroke-width="0.6" fill="none" />
<path d="M520.5 376.5 L522.3 376.5 L522.3 382.7" stroke="#000" stroke-width="1.1" fill="none" stroke-linecap="butt" />
<path d="M532.5 376.5 L531.1 376.5 L531.1 382.7" stroke="#000" stroke-width="1.1" fill="none" stroke-linecap="butt" />
<path d="M531.1 376.8 L526.5 376.8 L526.5 382.7" stroke="#000" stroke-width="1" fill="none" stroke-linecap="butt" />
<path d="M526.5 378.5 L525.1 380.9 L527.9 380.9 Z" stroke="#000" stroke-width="0.5" fill="#000" />
<path d="M520.7 383.3 L524.1 383.3" stroke="#000" stroke-width="2" fill="none" stroke-linecap="butt" />
<path d="M524.6 383.3 L528.4 383.3" stroke="#000" stroke-width="2" fill="none" stroke-linecap="butt" />
<path d="M529.3 383.3 L532.8 383.3" stroke="#000" stroke-width="2" fill="none" stroke-linecap="butt" />
<path d="M526.5 384.5 L526.5 399.5 L496.5 399.5" stroke="#000" stroke-width="1.2" fill="none" stroke-linecap="square" />
<text x="524" y="366.6" font-size="6.9" text-anchor="middle" fill="#000" textLength="7.6" lengthAdjust="spacingAndGlyphs">Q6</text>
<text x="496.5" y="398.5" font-size="7.1" text-anchor="start" fill="#000" textLength="24.2" lengthAdjust="spacingAndGlyphs">GATEA2</text>
<path d="M574.5 382.5 L622.5 382.5" stroke="#000" stroke-width="1.2" fill="none" stroke-linecap="square" />
<path d="M574.5 388.5 L622.5 388.5" stroke="#000" stroke-width="1.2" fill="none" stroke-linecap="square" />
<path d="M574.5 395.5 L622.5 395.5" stroke="#000" stroke-width="1.2" fill="none" stroke-linecap="square" />
<text x="574.6" y="375.6" font-size="7.5" text-anchor="start" fill="#000" textLength="24.6" lengthAdjust="spacingAndGlyphs">VBUSA2</text>
<text x="574.6" y="381.2" font-size="7.5" text-anchor="start" fill="#000" textLength="16.4" lengthAdjust="spacingAndGlyphs">DMA2</text>
<text x="574.6" y="387.2" font-size="7.5" text-anchor="start" fill="#000" textLength="15.6" lengthAdjust="spacingAndGlyphs">DPA2</text>
<text x="574.6" y="394.4" font-size="7.5" text-anchor="start" fill="#000" textLength="16.8" lengthAdjust="spacingAndGlyphs">CSPA</text>
<rect x="622.9" y="370.5" width="24.1" height="30.6" fill="none" stroke="#000" stroke-width="2.2"/>
<text x="635.35" y="365.7" font-size="8.2" text-anchor="middle" fill="#000" textLength="7.2" lengthAdjust="spacingAndGlyphs">J4</text>
<text x="636.8" y="412.3" font-size="9" text-anchor="middle" fill="#000" textLength="26.3" lengthAdjust="spacingAndGlyphs">USB-A2</text>
<text x="628.1" y="378.2" font-size="5.6" text-anchor="start" fill="#000" textLength="9.6" lengthAdjust="spacingAndGlyphs" style="stroke-width:0.2px">VCC</text>
<text x="628.1" y="383.8" font-size="5.6" text-anchor="start" fill="#000" textLength="5.8" lengthAdjust="spacingAndGlyphs" style="stroke-width:0.2px">D-</text>
<text x="628.1" y="389.8" font-size="5.6" text-anchor="start" fill="#000" textLength="6.2" lengthAdjust="spacingAndGlyphs" style="stroke-width:0.2px">D+</text>
<text x="628.1" y="397" font-size="5.6" text-anchor="start" fill="#000" textLength="9.2" lengthAdjust="spacingAndGlyphs" style="stroke-width:0.2px">VSS</text>
<text x="617.3" y="375.6" font-size="5.6" text-anchor="middle" fill="#000" style="stroke-width:0.2px">1</text>
<text x="617.3" y="381.2" font-size="5.6" text-anchor="middle" fill="#000" style="stroke-width:0.2px">2</text>
<text x="617.3" y="387.2" font-size="5.6" text-anchor="middle" fill="#000" style="stroke-width:0.2px">3</text>
<text x="617.3" y="394.4" font-size="5.6" text-anchor="middle" fill="#000" style="stroke-width:0.2px">4</text>
<circle cx="544.5" cy="376.5" r="1.6" fill="#000"/>
<path d="M544.5 376.5 L544.5 421.5 L81.5 421.5 L81.5 310.5" stroke="#000" stroke-width="1.2" fill="none" stroke-linecap="square" />
<text x="79.4" y="419" font-size="5.6" text-anchor="start" fill="#000" textLength="20.5" lengthAdjust="spacingAndGlyphs" transform="rotate(-90 79.4 419)" style="stroke-width:0.2px">VBUSA2</text>
<rect x="93.2" y="220.1" width="114.8" height="113.9" fill="none" stroke="#000" stroke-width="2.3"/>
<text x="152" y="272.8" font-size="9.2" text-anchor="middle" fill="#000" textLength="9" lengthAdjust="spacingAndGlyphs">U1</text>
<text x="152.1" y="285" font-size="9" text-anchor="middle" fill="#000" textLength="27.8" lengthAdjust="spacingAndGlyphs">MI2249</text>
<text x="86.9" y="243.3" font-size="5.4" text-anchor="middle" fill="#000" textLength="2.4" lengthAdjust="spacingAndGlyphs" style="stroke-width:0.2px">1</text>
<text x="97.8" y="246" font-size="5.2" text-anchor="start" fill="#000" textLength="10.35" lengthAdjust="spacingAndGlyphs" style="stroke-width:0.35px">DM1</text>
<text x="86.9" y="249.28" font-size="5.4" text-anchor="middle" fill="#000" textLength="2.4" lengthAdjust="spacingAndGlyphs" style="stroke-width:0.2px">2</text>
<text x="97.8" y="251.99" font-size="5.2" text-anchor="start" fill="#000" textLength="13.8" lengthAdjust="spacingAndGlyphs" style="stroke-width:0.35px">CSP1</text>
<text x="86.9" y="255.27" font-size="5.4" text-anchor="middle" fill="#000" textLength="2.4" lengthAdjust="spacingAndGlyphs" style="stroke-width:0.2px">3</text>
<text x="97.8" y="257.97" font-size="5.2" text-anchor="start" fill="#000" textLength="13.8" lengthAdjust="spacingAndGlyphs" style="stroke-width:0.35px">CSN1</text>
<text x="86.9" y="261.25" font-size="5.4" text-anchor="middle" fill="#000" textLength="2.4" lengthAdjust="spacingAndGlyphs" style="stroke-width:0.2px">4</text>
<text x="97.8" y="263.95" font-size="5.2" text-anchor="start" fill="#000" textLength="13.8" lengthAdjust="spacingAndGlyphs" style="stroke-width:0.35px">CSP2</text>
<text x="86.9" y="267.24" font-size="5.4" text-anchor="middle" fill="#000" textLength="2.4" lengthAdjust="spacingAndGlyphs" style="stroke-width:0.2px">5</text>
<text x="97.8" y="269.94" font-size="5.2" text-anchor="start" fill="#000" textLength="13.8" lengthAdjust="spacingAndGlyphs" style="stroke-width:0.35px">CSN2</text>
<text x="86.9" y="273.23" font-size="5.4" text-anchor="middle" fill="#000" textLength="2.4" lengthAdjust="spacingAndGlyphs" style="stroke-width:0.2px">6</text>
<text x="97.8" y="275.93" font-size="5.2" text-anchor="start" fill="#000" textLength="10.35" lengthAdjust="spacingAndGlyphs" style="stroke-width:0.35px">GND</text>
<text x="86.9" y="279.21" font-size="5.4" text-anchor="middle" fill="#000" textLength="2.4" lengthAdjust="spacingAndGlyphs" style="stroke-width:0.2px">7</text>
<text x="97.8" y="281.91" font-size="5.2" text-anchor="start" fill="#000" textLength="10.35" lengthAdjust="spacingAndGlyphs" style="stroke-width:0.35px">GND</text>
<text x="86.9" y="285.19" font-size="5.4" text-anchor="middle" fill="#000" textLength="2.4" lengthAdjust="spacingAndGlyphs" style="stroke-width:0.2px">8</text>
<text x="97.8" y="287.89" font-size="5.2" text-anchor="start" fill="#000" textLength="6.9" lengthAdjust="spacingAndGlyphs" style="stroke-width:0.35px">TS</text>
<text x="86.9" y="291.18" font-size="5.4" text-anchor="middle" fill="#000" textLength="2.4" lengthAdjust="spacingAndGlyphs" style="stroke-width:0.2px">9</text>
<text x="97.8" y="293.88" font-size="5.2" text-anchor="start" fill="#000" textLength="13.8" lengthAdjust="spacingAndGlyphs" style="stroke-width:0.35px">AGND</text>
<text x="86.9" y="297.17" font-size="5.4" text-anchor="middle" fill="#000" textLength="4.8" lengthAdjust="spacingAndGlyphs" style="stroke-width:0.2px">10</text>
<text x="97.8" y="299.87" font-size="5.2" text-anchor="start" fill="#000" textLength="13.8" lengthAdjust="spacingAndGlyphs" style="stroke-width:0.35px">DVDD</text>
<text x="86.9" y="303.15" font-size="5.4" text-anchor="middle" fill="#000" textLength="4.8" lengthAdjust="spacingAndGlyphs" style="stroke-width:0.2px">11</text>
<text x="97.8" y="305.85" font-size="5.2" text-anchor="start" fill="#000" textLength="13.8" lengthAdjust="spacingAndGlyphs" style="stroke-width:0.35px">AVDD</text>
<text x="86.9" y="309.13" font-size="5.4" text-anchor="middle" fill="#000" textLength="4.8" lengthAdjust="spacingAndGlyphs" style="stroke-width:0.2px">12</text>
<text x="97.8" y="311.83" font-size="5.2" text-anchor="start" fill="#000" textLength="17.25" lengthAdjust="spacingAndGlyphs" style="stroke-width:0.35px">VBUS4</text>
<path d="M57.5 244.5 L93.5 244.5" stroke="#000" stroke-width="1.2" fill="none" stroke-linecap="square" />
<path d="M57.5 250.5 L93.5 250.5" stroke="#000" stroke-width="1.2" fill="none" stroke-linecap="square" />
<path d="M57.5 256.5 L93.5 256.5" stroke="#000" stroke-width="1.2" fill="none" stroke-linecap="square" />
<path d="M57.5 262.5 L93.5 262.5" stroke="#000" stroke-width="1.2" fill="none" stroke-linecap="square" />
<path d="M57.5 268.5 L93.5 268.5" stroke="#000" stroke-width="1.2" fill="none" stroke-linecap="square" />
<path d="M57.5 274.5 L93.5 274.5" stroke="#000" stroke-width="1.2" fill="none" stroke-linecap="square" />
<path d="M57.5 280.5 L93.5 280.5" stroke="#000" stroke-width="1.2" fill="none" stroke-linecap="square" />
<text x="57" y="243.5" font-size="6.6" text-anchor="start" fill="#000" textLength="16.6" lengthAdjust="spacingAndGlyphs">DMA2</text>
<text x="57" y="249.49" font-size="6.6" text-anchor="start" fill="#000" textLength="16.2" lengthAdjust="spacingAndGlyphs">CSPC</text>
<text x="57" y="255.47" font-size="6.6" text-anchor="start" fill="#000" textLength="16.2" lengthAdjust="spacingAndGlyphs">CSNC</text>
<text x="57" y="261.45" font-size="6.6" text-anchor="start" fill="#000" textLength="16.4" lengthAdjust="spacingAndGlyphs">CSPA</text>
<text x="57" y="267.44" font-size="6.6" text-anchor="start" fill="#000" textLength="16.6" lengthAdjust="spacingAndGlyphs">CSNA</text>
<path d="M57.5 274.5 L57.5 280.5" stroke="#000" stroke-width="1.2" fill="none" stroke-linecap="square" />
<circle cx="57.5" cy="277.5" r="1.6" fill="#000"/>
<path d="M51.5 277.5 L57.5 277.5" stroke="#000" stroke-width="1.2" fill="none" stroke-linecap="square" />
<path d="M51.5 270.5 L51.5 283.5" stroke="#000" stroke-width="1.3" fill="none" stroke-linecap="butt" />
<path d="M49.7 273.12 L49.7 281.12" stroke="#000" stroke-width="1.1" fill="none" stroke-linecap="butt" />
<path d="M48 274.92 L48 279.32" stroke="#000" stroke-width="1" fill="none" stroke-linecap="butt" />
<circle cx="46.5" cy="277.5" r="0.6" fill="#000"/>
<text x="44.5" y="279.12" font-size="5.5" text-anchor="end" fill="#000" textLength="11.6" lengthAdjust="spacingAndGlyphs" style="stroke-width:0.2px">GND</text>
<path d="M93.5 286.5 L24.5 286.5 L24.5 316.5" stroke="#000" stroke-width="1.2" fill="none" stroke-linecap="square" />
<path d="M93.5 292.5 L45.5 292.5 L45.5 349.5 L33.5 349.5 L33.5 343.5" stroke="#000" stroke-width="1.2" fill="none" stroke-linecap="square" />
<path d="M93.5 298.5 L54.5 298.5 L54.5 327.5" stroke="#000" stroke-width="1.2" fill="none" stroke-linecap="square" />
<path d="M54.5 330.5 L54.5 349.5 L69.5 349.5" stroke="#000" stroke-width="1.2" fill="none" stroke-linecap="square" />
<path d="M93.5 304.5 L69.5 304.5 L69.5 327.5" stroke="#000" stroke-width="1.2" fill="none" stroke-linecap="square" />
<path d="M69.5 330.5 L69.5 355.5" stroke="#000" stroke-width="1.2" fill="none" stroke-linecap="square" />
<path d="M93.5 310.5 L81.5 310.5" stroke="#000" stroke-width="1.2" fill="none" stroke-linecap="square" />
<path d="M48.5 327.5 L59.5 327.5" stroke="#000" stroke-width="1.5" fill="none" stroke-linecap="butt" />
<path d="M48.5 329.5 L59.5 329.5" stroke="#000" stroke-width="1.5" fill="none" stroke-linecap="butt" />
<path d="M64.5 327.5 L74.5 327.5" stroke="#000" stroke-width="1.5" fill="none" stroke-linecap="butt" />
<path d="M64.5 329.5 L74.5 329.5" stroke="#000" stroke-width="1.5" fill="none" stroke-linecap="butt" />
<text x="54.2" y="323.8" font-size="6.6" text-anchor="start" fill="#000" textLength="7" lengthAdjust="spacingAndGlyphs">C5</text>
<text x="69.2" y="323.8" font-size="6.6" text-anchor="start" fill="#000" textLength="7" lengthAdjust="spacingAndGlyphs">C1</text>
<circle cx="69.5" cy="349.5" r="1.6" fill="#000"/>
<path d="M63.5 355.5 L75.5 355.5" stroke="#000" stroke-width="1.2" fill="none" stroke-linecap="butt" />
<path d="M65.5 357.5 L73.5 357.5" stroke="#000" stroke-width="1.1" fill="none" stroke-linecap="butt" />
<path d="M66.5 359.5 L71.5 359.5" stroke="#000" stroke-width="1" fill="none" stroke-linecap="butt" />
<text x="69.4" y="366.3" font-size="5.2" text-anchor="middle" fill="#000" textLength="10.8" lengthAdjust="spacingAndGlyphs" style="stroke-width:0.3px">GND</text>
<circle cx="24.5" cy="307.5" r="1.6" fill="#000"/>
<path d="M24.5 307.5 L33.5 307.5 L33.5 311.5" stroke="#000" stroke-width="1.2" fill="none" stroke-linecap="square" />
<path d="M33.1 312.5 L34.8 313.66 L31.4 315.97 L34.8 318.28 L31.4 320.59 L34.8 322.91 L31.4 325.22 L34.8 327.53 L31.4 329.84 L33.1 331" stroke="#000" stroke-width="1.2" fill="none" stroke-linecap="butt" />
<path d="M33.5 331.5 L33.5 343.5" stroke="#000" stroke-width="1.2" fill="none" stroke-linecap="square" />
<rect x="22.5" y="316.5" width="3.0" height="12.0" fill="none" stroke="#000" stroke-width="1.2"/>
<path d="M24.5 328.5 L24.5 343.5 L33.5 343.5" stroke="#000" stroke-width="1.2" fill="none" stroke-linecap="square" />
<path d="M19.3 318.2 L19.8 321.4 L28.6 326.8" stroke="#000" stroke-width="1" fill="none" stroke-linecap="butt" />
<circle cx="33.5" cy="343.5" r="1.6" fill="#000"/>
<text x="18.2" y="329.4" font-size="6.4" text-anchor="start" fill="#000" textLength="15.2" lengthAdjust="spacingAndGlyphs" transform="rotate(-90 18.2 329.4)">NTC1</text>
<text x="22" y="310.6" font-size="5.4" text-anchor="middle" fill="#000" transform="rotate(-90 22 310.6)" style="stroke-width:0.2px">1</text>
<text x="22" y="334.6" font-size="5.4" text-anchor="middle" fill="#000" transform="rotate(-90 22 334.6)" style="stroke-width:0.2px">1</text>
<text x="35.4" y="324" font-size="6.6" text-anchor="start" fill="#000" textLength="7.8" lengthAdjust="spacingAndGlyphs">R3</text>
<circle cx="39.5" cy="349.5" r="1.6" fill="#000"/>
<path d="M39.5 349.5 L39.5 355.5" stroke="#000" stroke-width="1.2" fill="none" stroke-linecap="square" />
<path d="M32.9 355 L45.3 355 L39.1 360.8 Z" stroke="#000" stroke-width="1.2" fill="none" />
<text x="39.3" y="366.8" font-size="5.2" text-anchor="middle" fill="#000" textLength="15" lengthAdjust="spacingAndGlyphs" style="stroke-width:0.2px">AGND</text>
<path d="M20.5 391.5 L20.5 385.5 L48.5 385.5 L48.5 391.5" stroke="#000" stroke-width="1.2" fill="none" stroke-linecap="square" />
<path d="M14.6 391.5 L27 391.5 L20.8 397.1 Z" stroke="#000" stroke-width="1.2" fill="none" />
<path d="M41.5 391.5 L54.5 391.5" stroke="#000" stroke-width="1.2" fill="none" stroke-linecap="butt" />
<path d="M43.5 393.5 L52.5 393.5" stroke="#000" stroke-width="1.1" fill="none" stroke-linecap="butt" />
<path d="M45.5 395.5 L50.5 395.5" stroke="#000" stroke-width="1" fill="none" stroke-linecap="butt" />
<text x="48.2" y="402.1" font-size="5.2" text-anchor="middle" fill="#000" textLength="10.8" lengthAdjust="spacingAndGlyphs" style="stroke-width:0.3px">GND</text>
<text x="21.2" y="402.6" font-size="5.2" text-anchor="middle" fill="#000" textLength="15.6" lengthAdjust="spacingAndGlyphs" style="stroke-width:0.2px">AGND</text>
<path d="M82.5 188.5 L111.5 188.5 L111.5 220.5" stroke="#000" stroke-width="1.2" fill="none" stroke-linecap="square" />
<path d="M82.5 181.5 L82.5 194.5" stroke="#000" stroke-width="1.3" fill="none" stroke-linecap="butt" />
<path d="M80.5 184.1 L80.5 192.1" stroke="#000" stroke-width="1.1" fill="none" stroke-linecap="butt" />
<path d="M78.8 185.9 L78.8 190.3" stroke="#000" stroke-width="1" fill="none" stroke-linecap="butt" />
<circle cx="77.5" cy="188.5" r="0.6" fill="#000"/>
<text x="75.3" y="190.1" font-size="5.5" text-anchor="end" fill="#000" textLength="11.6" lengthAdjust="spacingAndGlyphs" style="stroke-width:0.2px">GND</text>
<path d="M117.5 188.5 L117.5 220.5" stroke="#000" stroke-width="1.2" fill="none" stroke-linecap="square" />
<path d="M123.5 188.5 L123.5 220.5" stroke="#000" stroke-width="1.2" fill="none" stroke-linecap="square" />
<path d="M129.5 188.5 L129.5 220.5" stroke="#000" stroke-width="1.2" fill="none" stroke-linecap="square" />
<path d="M135.5 188.5 L135.5 220.5" stroke="#000" stroke-width="1.2" fill="none" stroke-linecap="square" />
<path d="M141.5 188.5 L141.5 220.5" stroke="#000" stroke-width="1.2" fill="none" stroke-linecap="square" />
<path d="M147.5 188.5 L147.5 220.5" stroke="#000" stroke-width="1.2" fill="none" stroke-linecap="square" />
<path d="M153.5 188.5 L153.5 220.5" stroke="#000" stroke-width="1.2" fill="none" stroke-linecap="square" />
<text x="116.53" y="205.2" font-size="5.6" text-anchor="start" fill="#000" textLength="14.8" lengthAdjust="spacingAndGlyphs" transform="rotate(-90 116.53 205.2)" style="stroke-width:0.3px">DPA2</text>
<text x="122.56" y="205.2" font-size="5.6" text-anchor="start" fill="#000" textLength="14.8" lengthAdjust="spacingAndGlyphs" transform="rotate(-90 122.56 205.2)" style="stroke-width:0.3px">DMA1</text>
<text x="128.59" y="205.2" font-size="5.6" text-anchor="start" fill="#000" textLength="14.8" lengthAdjust="spacingAndGlyphs" transform="rotate(-90 128.59 205.2)" style="stroke-width:0.3px">DPA1</text>
<text x="134.62" y="205.2" font-size="5.6" text-anchor="start" fill="#000" textLength="11.1" lengthAdjust="spacingAndGlyphs" transform="rotate(-90 134.62 205.2)" style="stroke-width:0.3px">DMB</text>
<text x="140.65" y="205.2" font-size="5.6" text-anchor="start" fill="#000" textLength="11.1" lengthAdjust="spacingAndGlyphs" transform="rotate(-90 140.65 205.2)" style="stroke-width:0.3px">DPB</text>
<text x="146.68" y="205.2" font-size="5.6" text-anchor="start" fill="#000" textLength="11.1" lengthAdjust="spacingAndGlyphs" transform="rotate(-90 146.68 205.2)" style="stroke-width:0.3px">DMC</text>
<text x="152.71" y="205.2" font-size="5.6" text-anchor="start" fill="#000" textLength="11.1" lengthAdjust="spacingAndGlyphs" transform="rotate(-90 152.71 205.2)" style="stroke-width:0.3px">DPC</text>
<text x="112.7" y="224.1" font-size="5" text-anchor="end" fill="#000" textLength="14" lengthAdjust="spacingAndGlyphs" transform="rotate(-90 112.7 224.1)" style="stroke-width:0.35px">EPAD</text>
<text x="116.53" y="212.8" font-size="5.6" text-anchor="middle" fill="#000" transform="rotate(-90 116.53 212.8)" style="stroke-width:0.2px">48</text>
<text x="118.73" y="224.1" font-size="5" text-anchor="end" fill="#000" textLength="10.5" lengthAdjust="spacingAndGlyphs" transform="rotate(-90 118.73 224.1)" style="stroke-width:0.35px">DP4</text>
<text x="122.56" y="212.8" font-size="5.6" text-anchor="middle" fill="#000" transform="rotate(-90 122.56 212.8)" style="stroke-width:0.2px">47</text>
<text x="124.76" y="224.1" font-size="5" text-anchor="end" fill="#000" textLength="10.5" lengthAdjust="spacingAndGlyphs" transform="rotate(-90 124.76 224.1)" style="stroke-width:0.35px">DM3</text>
<text x="128.59" y="212.8" font-size="5.6" text-anchor="middle" fill="#000" transform="rotate(-90 128.59 212.8)" style="stroke-width:0.2px">46</text>
<text x="130.79" y="224.1" font-size="5" text-anchor="end" fill="#000" textLength="10.5" lengthAdjust="spacingAndGlyphs" transform="rotate(-90 130.79 224.1)" style="stroke-width:0.35px">DP3</text>
<text x="134.62" y="212.8" font-size="5.6" text-anchor="middle" fill="#000" transform="rotate(-90 134.62 212.8)" style="stroke-width:0.2px">45</text>
<text x="136.82" y="224.1" font-size="5" text-anchor="end" fill="#000" textLength="10.5" lengthAdjust="spacingAndGlyphs" transform="rotate(-90 136.82 224.1)" style="stroke-width:0.35px">DM2</text>
<text x="140.65" y="212.8" font-size="5.6" text-anchor="middle" fill="#000" transform="rotate(-90 140.65 212.8)" style="stroke-width:0.2px">44</text>
<text x="142.85" y="224.1" font-size="5" text-anchor="end" fill="#000" textLength="10.5" lengthAdjust="spacingAndGlyphs" transform="rotate(-90 142.85 224.1)" style="stroke-width:0.35px">DP2</text>
<text x="146.68" y="212.8" font-size="5.6" text-anchor="middle" fill="#000" transform="rotate(-90 146.68 212.8)" style="stroke-width:0.2px">43</text>
<text x="148.88" y="224.1" font-size="5" text-anchor="end" fill="#000" textLength="10.5" lengthAdjust="spacingAndGlyphs" transform="rotate(-90 148.88 224.1)" style="stroke-width:0.35px">DM1</text>
<text x="152.71" y="212.8" font-size="5.6" text-anchor="middle" fill="#000" transform="rotate(-90 152.71 212.8)" style="stroke-width:0.2px">42</text>
<text x="154.91" y="224.1" font-size="5" text-anchor="end" fill="#000" textLength="10.5" lengthAdjust="spacingAndGlyphs" transform="rotate(-90 154.91 224.1)" style="stroke-width:0.35px">DP1</text>
<text x="158.74" y="212.8" font-size="5.6" text-anchor="middle" fill="#000" transform="rotate(-90 158.74 212.8)" style="stroke-width:0.2px">41</text>
<text x="160.94" y="224.1" font-size="5" text-anchor="end" fill="#000" textLength="10.5" lengthAdjust="spacingAndGlyphs" transform="rotate(-90 160.94 224.1)" style="stroke-width:0.35px">KEY</text>
<text x="164.77" y="212.8" font-size="5.6" text-anchor="middle" fill="#000" transform="rotate(-90 164.77 212.8)" style="stroke-width:0.2px">40</text>
<text x="166.97" y="224.1" font-size="5" text-anchor="end" fill="#000" textLength="14" lengthAdjust="spacingAndGlyphs" transform="rotate(-90 166.97 224.1)" style="stroke-width:0.35px">LED0</text>
<text x="170.8" y="212.8" font-size="5.6" text-anchor="middle" fill="#000" transform="rotate(-90 170.8 212.8)" style="stroke-width:0.2px">39</text>
<text x="173" y="224.1" font-size="5" text-anchor="end" fill="#000" textLength="14" lengthAdjust="spacingAndGlyphs" transform="rotate(-90 173 224.1)" style="stroke-width:0.35px">LED2</text>
<text x="176.83" y="212.8" font-size="5.6" text-anchor="middle" fill="#000" transform="rotate(-90 176.83 212.8)" style="stroke-width:0.2px">38</text>
<text x="179.03" y="224.1" font-size="5" text-anchor="end" fill="#000" textLength="14" lengthAdjust="spacingAndGlyphs" transform="rotate(-90 179.03 224.1)" style="stroke-width:0.35px">LED1</text>
<text x="182.86" y="212.8" font-size="5.6" text-anchor="middle" fill="#000" transform="rotate(-90 182.86 212.8)" style="stroke-width:0.2px">37</text>
<text x="185.06" y="224.1" font-size="5" text-anchor="end" fill="#000" textLength="14" lengthAdjust="spacingAndGlyphs" transform="rotate(-90 185.06 224.1)" style="stroke-width:0.35px">BOOT</text>
<circle cx="108.0" cy="213.8" r="1.3" fill="none" stroke="#222" stroke-width="0.8"/>
<path d="M159.5 220.5 L159.5 120.5 L149.5 120.5" stroke="#000" stroke-width="1.2" fill="none" stroke-linecap="square" />
<circle cx="138.1" cy="120.5" r="2.0" fill="none" stroke="#000" stroke-width="1.1"/>
<circle cx="147.3" cy="120.5" r="2.0" fill="none" stroke="#000" stroke-width="1.1"/>
<path d="M113.5 120.5 L136.5 120.5" stroke="#000" stroke-width="1.2" fill="none" stroke-linecap="square" />
<path d="M137.5 116.5 L149.5 116.5" stroke="#000" stroke-width="1.2" fill="none" stroke-linecap="square" />
<path d="M140.8 116.2 L140.8 114.2 L145 114.2 L145 116.2" stroke="#000" stroke-width="0.9" fill="none" stroke-linecap="square" />
<path d="M113.5 114.5 L113.5 126.5" stroke="#000" stroke-width="1.3" fill="none" stroke-linecap="butt" />
<path d="M111 116.4 L111 124.4" stroke="#000" stroke-width="1.1" fill="none" stroke-linecap="butt" />
<path d="M109.3 118.2 L109.3 122.6" stroke="#000" stroke-width="1" fill="none" stroke-linecap="butt" />
<circle cx="107.5" cy="120.5" r="0.6" fill="#000"/>
<text x="105.8" y="122.4" font-size="5.5" text-anchor="end" fill="#000" textLength="11.6" lengthAdjust="spacingAndGlyphs" style="stroke-width:0.2px">GND</text>
<text x="143" y="127.4" font-size="5.4" text-anchor="middle" fill="#000" textLength="6" lengthAdjust="spacingAndGlyphs" style="stroke-width:0.2px">K1</text>
<path d="M165.77 220.1 L165.5 121.5 L247.8 121.5 L247.8 186.5 L177.83 186.5 L177.83 220.1" stroke="#000" stroke-width="1.2" fill="none" stroke-linecap="square" />
<path d="M165.5 136.5 L247.5 136.5" stroke="#000" stroke-width="1.2" fill="none" stroke-linecap="square" />
<path d="M165.5 152.5 L213.5 152.5 L213.5 180.5 L171.5 180.5 L171.5 220.5" stroke="#000" stroke-width="1.2" fill="none" stroke-linecap="square" />
<path d="M165.5 166.5 L247.5 166.5" stroke="#000" stroke-width="1.2" fill="none" stroke-linecap="square" />
<circle cx="165.5" cy="136.5" r="1.6" fill="#000"/>
<circle cx="247.5" cy="136.5" r="1.6" fill="#000"/>
<circle cx="165.5" cy="152.5" r="1.6" fill="#000"/>
<circle cx="165.5" cy="166.5" r="1.6" fill="#000"/>
<circle cx="213.5" cy="166.5" r="1.6" fill="#000"/>
<circle cx="247.5" cy="166.5" r="1.6" fill="#000"/>
<path d="M225.5 115.6 L225.5 127.4 L231.3 121.5 Z" fill="#fff" stroke="#000" stroke-width="1.2"/>
<path d="M231.5 115.5 L231.5 127.5" stroke="#000" stroke-width="1.3" fill="none" stroke-linecap="butt" />
<path d="M232.2 114 L237.01 109.19" stroke="#000" stroke-width="1.2" fill="none" stroke-linecap="butt" />
<path d="M237.01 109.19 L236.3 112.44 L233.76 109.9 Z" stroke="#000" stroke-width="0.6" fill="#000" />
<path d="M234.32 116.12 L239.13 111.31" stroke="#000" stroke-width="1.2" fill="none" stroke-linecap="butt" />
<path d="M239.13 111.31 L238.42 114.57 L235.88 112.02 Z" stroke="#000" stroke-width="0.6" fill="#000" />
<path d="M231.3 131 L231.3 142.8 L225.5 136.9 Z" fill="#fff" stroke="#000" stroke-width="1.2"/>
<path d="M225.5 130.5 L225.5 143.5" stroke="#000" stroke-width="1.3" fill="none" stroke-linecap="butt" />
<path d="M224.2 144.8 L219.39 149.61" stroke="#000" stroke-width="1.2" fill="none" stroke-linecap="butt" />
<path d="M219.39 149.61 L220.1 146.36 L222.64 148.9 Z" stroke="#000" stroke-width="0.6" fill="#000" />
<path d="M222.08 142.68 L217.27 147.49" stroke="#000" stroke-width="1.2" fill="none" stroke-linecap="butt" />
<path d="M217.27 147.49 L217.98 144.23 L220.52 146.78 Z" stroke="#000" stroke-width="0.6" fill="#000" />
<path d="M195.6 146.4 L195.6 158.2 L201.7 152.3 Z" fill="#fff" stroke="#000" stroke-width="1.2"/>
<path d="M201.5 146.5 L201.5 158.5" stroke="#000" stroke-width="1.3" fill="none" stroke-linecap="butt" />
<path d="M202.4 145.2 L207.21 140.39" stroke="#000" stroke-width="1.2" fill="none" stroke-linecap="butt" />
<path d="M207.21 140.39 L206.5 143.64 L203.96 141.1 Z" stroke="#000" stroke-width="0.6" fill="#000" />
<path d="M204.52 147.32 L209.33 142.51" stroke="#000" stroke-width="1.2" fill="none" stroke-linecap="butt" />
<path d="M209.33 142.51 L208.62 145.77 L206.08 143.22 Z" stroke="#000" stroke-width="0.6" fill="#000" />
<path d="M188.3 161 L188.3 172.8 L182.5 166.9 Z" fill="#fff" stroke="#000" stroke-width="1.2"/>
<path d="M182.5 160.5 L182.5 173.5" stroke="#000" stroke-width="1.3" fill="none" stroke-linecap="butt" />
<path d="M182.2 174.6 L177.39 179.41" stroke="#000" stroke-width="1.2" fill="none" stroke-linecap="butt" />
<path d="M177.39 179.41 L178.1 176.16 L180.64 178.7 Z" stroke="#000" stroke-width="0.6" fill="#000" />
<path d="M180.08 172.48 L175.27 177.29" stroke="#000" stroke-width="1.2" fill="none" stroke-linecap="butt" />
<path d="M175.27 177.29 L175.98 174.03 L178.52 176.58 Z" stroke="#000" stroke-width="0.6" fill="#000" />
<path d="M231.5 161 L231.5 172.8 L225.7 166.9 Z" fill="#fff" stroke="#000" stroke-width="1.2"/>
<path d="M225.5 160.5 L225.5 173.5" stroke="#000" stroke-width="1.3" fill="none" stroke-linecap="butt" />
<path d="M225.6 174.6 L220.79 179.41" stroke="#000" stroke-width="1.2" fill="none" stroke-linecap="butt" />
<path d="M220.79 179.41 L221.5 176.16 L224.04 178.7 Z" stroke="#000" stroke-width="0.6" fill="#000" />
<path d="M223.48 172.48 L218.67 177.29" stroke="#000" stroke-width="1.2" fill="none" stroke-linecap="butt" />
<path d="M218.67 177.29 L219.38 174.03 L221.92 176.58 Z" stroke="#000" stroke-width="0.6" fill="#000" />
<text x="211" y="119" font-size="5.2" text-anchor="start" fill="#000" textLength="12.2" lengthAdjust="spacingAndGlyphs" style="stroke-width:0.2px">LED1</text>
<text x="211" y="135.4" font-size="5.2" text-anchor="start" fill="#000" textLength="12.2" lengthAdjust="spacingAndGlyphs" style="stroke-width:0.2px">LED2</text>
<text x="180.3" y="150.6" font-size="5.2" text-anchor="start" fill="#000" textLength="12.8" lengthAdjust="spacingAndGlyphs" style="stroke-width:0.2px">LED3</text>
<text x="175.3" y="159" font-size="5.2" text-anchor="start" fill="#000" textLength="12.6" lengthAdjust="spacingAndGlyphs" style="stroke-width:0.2px">LED4</text>
<text x="218.8" y="159" font-size="5.2" text-anchor="start" fill="#000" textLength="12.4" lengthAdjust="spacingAndGlyphs" style="stroke-width:0.2px">LED5</text>
<path d="M183.5 192.5 L255.5 192.5" stroke="#000" stroke-width="1.2" fill="none" stroke-linecap="butt" />
<path d="M258.5 192.5 L266.5 192.5" stroke="#000" stroke-width="1.2" fill="none" stroke-linecap="butt" />
<path d="M255.5 187.5 L255.5 197.5" stroke="#000" stroke-width="1.2" fill="none" stroke-linecap="butt" />
<path d="M258.5 187.5 L258.5 197.5" stroke="#000" stroke-width="1.2" fill="none" stroke-linecap="butt" />
<path d="M183.5 220.5 L183.5 192.5" stroke="#000" stroke-width="1.2" fill="none" stroke-linecap="square" />
<path d="M266.5 192.5 L266.5 250.5 L208.5 250.5" stroke="#000" stroke-width="1.2" fill="none" stroke-linecap="square" />
<text x="253.9" y="186" font-size="6.6" text-anchor="start" fill="#000" textLength="6.3" lengthAdjust="spacingAndGlyphs">C1</text>
<text x="214.4" y="243.4" font-size="5.2" text-anchor="middle" fill="#000" textLength="4.6" lengthAdjust="spacingAndGlyphs" style="stroke-width:0.2px">36</text>
<text x="203.8" y="246.1" font-size="5.2" text-anchor="end" fill="#000" textLength="14" lengthAdjust="spacingAndGlyphs" style="stroke-width:0.35px">HDRV</text>
<path d="M208.5 244.5 L239.5 244.5" stroke="#000" stroke-width="1.2" fill="none" stroke-linecap="square" />
<text x="221.8" y="243.4" font-size="6" text-anchor="start" fill="#000" textLength="15.8" lengthAdjust="spacingAndGlyphs" style="stroke-width:0.2px">HDRV</text>
<text x="214.4" y="249.35" font-size="5.2" text-anchor="middle" fill="#000" textLength="4.6" lengthAdjust="spacingAndGlyphs" style="stroke-width:0.2px">35</text>
<text x="203.8" y="252.05" font-size="5.2" text-anchor="end" fill="#000" textLength="7" lengthAdjust="spacingAndGlyphs" style="stroke-width:0.35px">SW</text>
<text x="214.4" y="255.3" font-size="5.2" text-anchor="middle" fill="#000" textLength="4.6" lengthAdjust="spacingAndGlyphs" style="stroke-width:0.2px">34</text>
<text x="203.8" y="258" font-size="5.2" text-anchor="end" fill="#000" textLength="7" lengthAdjust="spacingAndGlyphs" style="stroke-width:0.35px">NC</text>
<path d="M208.5 256.5 L219.5 256.5" stroke="#000" stroke-width="1.2" fill="none" stroke-linecap="square" />
<path d="M219.4 253.8 L223.8 258.2" stroke="#000" stroke-width="0.8" fill="none" stroke-linecap="butt" />
<path d="M219.4 258.2 L223.8 253.8" stroke="#000" stroke-width="0.8" fill="none" stroke-linecap="butt" />
<text x="214.4" y="261.25" font-size="5.2" text-anchor="middle" fill="#000" textLength="4.6" lengthAdjust="spacingAndGlyphs" style="stroke-width:0.2px">33</text>
<text x="203.8" y="263.95" font-size="5.2" text-anchor="end" fill="#000" textLength="7" lengthAdjust="spacingAndGlyphs" style="stroke-width:0.35px">NC</text>
<path d="M208.5 262.5 L219.5 262.5" stroke="#000" stroke-width="1.2" fill="none" stroke-linecap="square" />
<path d="M219.4 259.75 L223.8 264.15" stroke="#000" stroke-width="0.8" fill="none" stroke-linecap="butt" />
<path d="M219.4 264.15 L223.8 259.75" stroke="#000" stroke-width="0.8" fill="none" stroke-linecap="butt" />
<text x="214.4" y="267.2" font-size="5.2" text-anchor="middle" fill="#000" textLength="4.6" lengthAdjust="spacingAndGlyphs" style="stroke-width:0.2px">32</text>
<text x="203.8" y="269.9" font-size="5.2" text-anchor="end" fill="#000" textLength="7" lengthAdjust="spacingAndGlyphs" style="stroke-width:0.35px">NC</text>
<path d="M208.5 268.5 L219.5 268.5" stroke="#000" stroke-width="1.2" fill="none" stroke-linecap="square" />
<path d="M219.4 265.7 L223.8 270.1" stroke="#000" stroke-width="0.8" fill="none" stroke-linecap="butt" />
<path d="M219.4 270.1 L223.8 265.7" stroke="#000" stroke-width="0.8" fill="none" stroke-linecap="butt" />
<text x="214.4" y="273.15" font-size="5.2" text-anchor="middle" fill="#000" textLength="4.6" lengthAdjust="spacingAndGlyphs" style="stroke-width:0.2px">31</text>
<text x="203.8" y="275.85" font-size="5.2" text-anchor="end" fill="#000" textLength="14" lengthAdjust="spacingAndGlyphs" style="stroke-width:0.35px">LDRV</text>
<path d="M208.5 274.5 L243.5 274.5" stroke="#000" stroke-width="1.2" fill="none" stroke-linecap="square" />
<text x="221.8" y="273.15" font-size="6" text-anchor="start" fill="#000" textLength="15.8" lengthAdjust="spacingAndGlyphs" style="stroke-width:0.2px">LDRV</text>
<text x="214.4" y="279.1" font-size="5.2" text-anchor="middle" fill="#000" textLength="4.6" lengthAdjust="spacingAndGlyphs" style="stroke-width:0.2px">30</text>
<text x="203.8" y="281.8" font-size="5.2" text-anchor="end" fill="#000" textLength="7" lengthAdjust="spacingAndGlyphs" style="stroke-width:0.35px">NC</text>
<path d="M208.5 280.5 L219.5 280.5" stroke="#000" stroke-width="1.2" fill="none" stroke-linecap="square" />
<text x="214.4" y="285.05" font-size="5.2" text-anchor="middle" fill="#000" textLength="4.6" lengthAdjust="spacingAndGlyphs" style="stroke-width:0.2px">29</text>
<text x="203.8" y="287.75" font-size="5.2" text-anchor="end" fill="#000" textLength="17.5" lengthAdjust="spacingAndGlyphs" style="stroke-width:0.35px">GATE1</text>
<path d="M208.5 285.5 L243.5 285.5" stroke="#000" stroke-width="1.2" fill="none" stroke-linecap="square" />
<text x="221.8" y="285.05" font-size="6" text-anchor="start" fill="#000" textLength="19.8" lengthAdjust="spacingAndGlyphs" style="stroke-width:0.2px">GATEC</text>
<text x="214.4" y="291" font-size="5.2" text-anchor="middle" fill="#000" textLength="4.6" lengthAdjust="spacingAndGlyphs" style="stroke-width:0.2px">28</text>
<text x="203.8" y="293.7" font-size="5.2" text-anchor="end" fill="#000" textLength="17.5" lengthAdjust="spacingAndGlyphs" style="stroke-width:0.35px">GATE2</text>
<path d="M208.5 291.5 L243.5 291.5" stroke="#000" stroke-width="1.2" fill="none" stroke-linecap="square" />
<text x="221.8" y="291" font-size="6" text-anchor="start" fill="#000" textLength="19.8" lengthAdjust="spacingAndGlyphs" style="stroke-width:0.2px">GATEB</text>
<text x="214.4" y="296.95" font-size="5.2" text-anchor="middle" fill="#000" textLength="4.6" lengthAdjust="spacingAndGlyphs" style="stroke-width:0.2px">27</text>
<text x="203.8" y="299.65" font-size="5.2" text-anchor="end" fill="#000" textLength="17.5" lengthAdjust="spacingAndGlyphs" style="stroke-width:0.35px">GATE3</text>
<path d="M208.5 297.5 L243.5 297.5" stroke="#000" stroke-width="1.2" fill="none" stroke-linecap="square" />
<text x="221.8" y="296.95" font-size="6" text-anchor="start" fill="#000" textLength="21.4" lengthAdjust="spacingAndGlyphs" style="stroke-width:0.2px">GATEA1</text>
<text x="214.4" y="302.9" font-size="5.2" text-anchor="middle" fill="#000" textLength="4.6" lengthAdjust="spacingAndGlyphs" style="stroke-width:0.2px">26</text>
<text x="203.8" y="305.6" font-size="5.2" text-anchor="end" fill="#000" textLength="17.5" lengthAdjust="spacingAndGlyphs" style="stroke-width:0.35px">GATE4</text>
<path d="M208.5 303.5 L243.5 303.5" stroke="#000" stroke-width="1.2" fill="none" stroke-linecap="square" />
<text x="221.8" y="302.9" font-size="6" text-anchor="start" fill="#000" textLength="21.4" lengthAdjust="spacingAndGlyphs" style="stroke-width:0.2px">GATEA2</text>
<text x="214.4" y="308.85" font-size="5.2" text-anchor="middle" fill="#000" textLength="4.6" lengthAdjust="spacingAndGlyphs" style="stroke-width:0.2px">25</text>
<text x="203.8" y="311.55" font-size="5.2" text-anchor="end" fill="#000" textLength="14" lengthAdjust="spacingAndGlyphs" style="stroke-width:0.35px">PVDD</text>
<text x="221.8" y="249.35" font-size="6" text-anchor="start" fill="#000" textLength="10.4" lengthAdjust="spacingAndGlyphs" style="stroke-width:0.2px">SW</text>
<path d="M208.5 309.5 L252.5 309.5 L252.5 327.5" stroke="#000" stroke-width="1.2" fill="none" stroke-linecap="square" />
<path d="M252.5 330.5 L252.5 344.5" stroke="#000" stroke-width="1.2" fill="none" stroke-linecap="square" />
<path d="M246.5 327.5 L257.5 327.5" stroke="#000" stroke-width="1.5" fill="none" stroke-linecap="butt" />
<path d="M246.5 330.5 L257.5 330.5" stroke="#000" stroke-width="1.5" fill="none" stroke-linecap="butt" />
<path d="M245.5 344.5 L258.5 344.5" stroke="#000" stroke-width="1.2" fill="none" stroke-linecap="butt" />
<path d="M247.5 346.5 L256.5 346.5" stroke="#000" stroke-width="1.1" fill="none" stroke-linecap="butt" />
<path d="M249.5 348.5 L254.5 348.5" stroke="#000" stroke-width="1" fill="none" stroke-linecap="butt" />
<text x="252.1" y="355.7" font-size="5.2" text-anchor="middle" fill="#000" textLength="10.8" lengthAdjust="spacingAndGlyphs" style="stroke-width:0.3px">GND</text>
<text x="258" y="331.2" font-size="6.4" text-anchor="start" fill="#000" textLength="8.4" lengthAdjust="spacingAndGlyphs">C3</text>
<circle cx="234.5" cy="309.5" r="1.6" fill="#000"/>
<path d="M234.5 309.5 L234.5 315.5" stroke="#000" stroke-width="1.2" fill="none" stroke-linecap="square" />
<path d="M234.5 315 C230.86 315 230.86 321.38 234.5 321.38 C230.86 321.38 230.86 327.75 234.5 327.75 C230.86 327.75 230.86 334.12 234.5 334.12 C230.86 334.12 230.86 340.5 234.5 340.5" stroke="#000" stroke-width="1.3" fill="none" />
<path d="M234.5 340.5 L234.5 346.5 L183.5 346.5 L183.5 334.5" stroke="#000" stroke-width="1.2" fill="none" stroke-linecap="square" />
<rect x="223.8" y="314.2" width="22.0" height="27.4" fill="none" stroke="#000" stroke-width="1.2" stroke-dasharray="1.5 0.9"/>
<text x="237.4" y="331" font-size="6.4" text-anchor="start" fill="#000" textLength="6.4" lengthAdjust="spacingAndGlyphs">L2</text>
<text x="116.6" y="340" font-size="5.6" text-anchor="middle" fill="#000" transform="rotate(-90 116.6 340)" style="stroke-width:0.2px">13</text>
<text x="119.1" y="330.6" font-size="5" text-anchor="start" fill="#000" textLength="17.5" lengthAdjust="spacingAndGlyphs" transform="rotate(-90 119.1 330.6)" style="stroke-width:0.35px">VBUS3</text>
<path d="M117.5 334.5 L117.5 367.5" stroke="#000" stroke-width="1.2" fill="none" stroke-linecap="square" />
<text x="116.4" y="367.6" font-size="5.8" text-anchor="start" fill="#000" textLength="23.1" lengthAdjust="spacingAndGlyphs" transform="rotate(-90 116.4 367.6)" style="stroke-width:0.3px">VBUSA1</text>
<text x="122.6" y="340" font-size="5.6" text-anchor="middle" fill="#000" transform="rotate(-90 122.6 340)" style="stroke-width:0.2px">14</text>
<text x="125.1" y="330.6" font-size="5" text-anchor="start" fill="#000" textLength="14" lengthAdjust="spacingAndGlyphs" transform="rotate(-90 125.1 330.6)" style="stroke-width:0.35px">CC1N</text>
<path d="M123.5 334.5 L123.5 367.5" stroke="#000" stroke-width="1.2" fill="none" stroke-linecap="square" />
<text x="122.4" y="367.6" font-size="5.8" text-anchor="start" fill="#000" textLength="15.4" lengthAdjust="spacingAndGlyphs" transform="rotate(-90 122.4 367.6)" style="stroke-width:0.3px">CC1N</text>
<text x="128.6" y="340" font-size="5.6" text-anchor="middle" fill="#000" transform="rotate(-90 128.6 340)" style="stroke-width:0.2px">15</text>
<text x="131.1" y="330.6" font-size="5" text-anchor="start" fill="#000" textLength="14" lengthAdjust="spacingAndGlyphs" transform="rotate(-90 131.1 330.6)" style="stroke-width:0.35px">CC1P</text>
<path d="M129.5 334.5 L129.5 367.5" stroke="#000" stroke-width="1.2" fill="none" stroke-linecap="square" />
<text x="128.4" y="367.6" font-size="5.8" text-anchor="start" fill="#000" textLength="15.4" lengthAdjust="spacingAndGlyphs" transform="rotate(-90 128.4 367.6)" style="stroke-width:0.3px">CC1P</text>
<text x="134.6" y="340" font-size="5.6" text-anchor="middle" fill="#000" transform="rotate(-90 134.6 340)" style="stroke-width:0.2px">16</text>
<text x="137.1" y="330.6" font-size="5" text-anchor="start" fill="#000" textLength="7" lengthAdjust="spacingAndGlyphs" transform="rotate(-90 137.1 330.6)" style="stroke-width:0.35px">NC</text>
<path d="M135.5 334.5 L135.5 344.5" stroke="#000" stroke-width="1.2" fill="none" stroke-linecap="square" />
<path d="M133.2 344.1 L137.8 348.7" stroke="#000" stroke-width="0.8" fill="none" stroke-linecap="butt" />
<path d="M133.2 348.7 L137.8 344.1" stroke="#000" stroke-width="0.8" fill="none" stroke-linecap="butt" />
<text x="140.6" y="340" font-size="5.6" text-anchor="middle" fill="#000" transform="rotate(-90 140.6 340)" style="stroke-width:0.2px">17</text>
<text x="143.1" y="330.6" font-size="5" text-anchor="start" fill="#000" textLength="7" lengthAdjust="spacingAndGlyphs" transform="rotate(-90 143.1 330.6)" style="stroke-width:0.35px">NC</text>
<path d="M141.5 334.5 L141.5 344.5" stroke="#000" stroke-width="1.2" fill="none" stroke-linecap="square" />
<path d="M139.2 344.1 L143.8 348.7" stroke="#000" stroke-width="0.8" fill="none" stroke-linecap="butt" />
<path d="M139.2 348.7 L143.8 344.1" stroke="#000" stroke-width="0.8" fill="none" stroke-linecap="butt" />
<text x="146.6" y="340" font-size="5.6" text-anchor="middle" fill="#000" transform="rotate(-90 146.6 340)" style="stroke-width:0.2px">18</text>
<text x="149.1" y="330.6" font-size="5" text-anchor="start" fill="#000" textLength="7" lengthAdjust="spacingAndGlyphs" transform="rotate(-90 149.1 330.6)" style="stroke-width:0.35px">NC</text>
<path d="M147.5 334.5 L147.5 344.5" stroke="#000" stroke-width="1.2" fill="none" stroke-linecap="square" />
<path d="M145.2 344.1 L149.8 348.7" stroke="#000" stroke-width="0.8" fill="none" stroke-linecap="butt" />
<path d="M145.2 348.7 L149.8 344.1" stroke="#000" stroke-width="0.8" fill="none" stroke-linecap="butt" />
<text x="152.6" y="340" font-size="5.6" text-anchor="middle" fill="#000" transform="rotate(-90 152.6 340)" style="stroke-width:0.2px">19</text>
<text x="155.1" y="330.6" font-size="5" text-anchor="start" fill="#000" textLength="14" lengthAdjust="spacingAndGlyphs" transform="rotate(-90 155.1 330.6)" style="stroke-width:0.35px">VBAT</text>
<text x="158.6" y="340" font-size="5.6" text-anchor="middle" fill="#000" transform="rotate(-90 158.6 340)" style="stroke-width:0.2px">20</text>
<text x="161.1" y="330.6" font-size="5" text-anchor="start" fill="#000" textLength="17.5" lengthAdjust="spacingAndGlyphs" transform="rotate(-90 161.1 330.6)" style="stroke-width:0.35px">VBUS1</text>
<path d="M159.5 334.5 L159.5 367.5" stroke="#000" stroke-width="1.2" fill="none" stroke-linecap="square" />
<text x="158.4" y="367.6" font-size="5.8" text-anchor="start" fill="#000" textLength="19.25" lengthAdjust="spacingAndGlyphs" transform="rotate(-90 158.4 367.6)" style="stroke-width:0.3px">VBUSC</text>
<text x="164.6" y="340" font-size="5.6" text-anchor="middle" fill="#000" transform="rotate(-90 164.6 340)" style="stroke-width:0.2px">21</text>
<text x="167.1" y="330.6" font-size="5" text-anchor="start" fill="#000" textLength="14" lengthAdjust="spacingAndGlyphs" transform="rotate(-90 167.1 330.6)" style="stroke-width:0.35px">VSYS</text>
<path d="M165.5 334.5 L165.5 367.5" stroke="#000" stroke-width="1.2" fill="none" stroke-linecap="square" />
<text x="164.4" y="367.6" font-size="5.8" text-anchor="start" fill="#000" textLength="15.4" lengthAdjust="spacingAndGlyphs" transform="rotate(-90 164.4 367.6)" style="stroke-width:0.3px">VSYS</text>
<text x="170.6" y="340" font-size="5.6" text-anchor="middle" fill="#000" transform="rotate(-90 170.6 340)" style="stroke-width:0.2px">22</text>
<text x="173.1" y="330.6" font-size="5" text-anchor="start" fill="#000" textLength="17.5" lengthAdjust="spacingAndGlyphs" transform="rotate(-90 173.1 330.6)" style="stroke-width:0.35px">VBUS2</text>
<path d="M171.5 334.5 L171.5 367.5" stroke="#000" stroke-width="1.2" fill="none" stroke-linecap="square" />
<text x="170.4" y="367.6" font-size="5.8" text-anchor="start" fill="#000" textLength="19.25" lengthAdjust="spacingAndGlyphs" transform="rotate(-90 170.4 367.6)" style="stroke-width:0.3px">VBUSB</text>
<text x="176.6" y="340" font-size="5.6" text-anchor="middle" fill="#000" transform="rotate(-90 176.6 340)" style="stroke-width:0.2px">23</text>
<text x="179.1" y="330.6" font-size="5" text-anchor="start" fill="#000" textLength="14" lengthAdjust="spacingAndGlyphs" transform="rotate(-90 179.1 330.6)" style="stroke-width:0.35px">VSYS</text>
<path d="M177.5 334.5 L177.5 344.5" stroke="#000" stroke-width="1.2" fill="none" stroke-linecap="square" />
<path d="M175.2 344.1 L179.8 348.7" stroke="#000" stroke-width="0.8" fill="none" stroke-linecap="butt" />
<path d="M175.2 348.7 L179.8 344.1" stroke="#000" stroke-width="0.8" fill="none" stroke-linecap="butt" />
<text x="182.6" y="340" font-size="5.6" text-anchor="middle" fill="#000" transform="rotate(-90 182.6 340)" style="stroke-width:0.2px">24</text>
<text x="185.1" y="330.6" font-size="5" text-anchor="start" fill="#000" textLength="10.5" lengthAdjust="spacingAndGlyphs" transform="rotate(-90 185.1 330.6)" style="stroke-width:0.35px">BSW</text>
<path d="M1 1L2 2 M0.5 4L2 5 M0.5 9.5L2.3 6.5 M6 0L7 1.2 M3.5 2.5H9.5 M4 5.8H9 M3 9.5H10 M6.5 2.5V9.5" transform="translate(174.6 394) scale(0.58)" stroke="#111" stroke-width="1.24" fill="none" stroke-linecap="butt"/>
<path d="M1.6 8.2L2.8 8.8L2.2 10.4L1.4 11" transform="translate(180.6 394) scale(0.58)" stroke="#111" stroke-width="1.24" fill="none" stroke-linecap="butt"/>
<path d="M0 3H3.5 M1.8 0V10 M1.8 3.5L0 7.5 M1.8 4L3.5 6 M4.5 0.5H9V5H4.5 M4.5 2.7H9 M4.5 0.5V10L6 9 M6 5L10 10 M9.5 5.8L6.8 7.5" transform="translate(187.9 394) scale(0.58)" stroke="#111" stroke-width="1.24" fill="none" stroke-linecap="butt"/>
<path d="M0 3H3.2 M1.6 0V9.5L0.8 9 M0 7L3.2 5.5 M4.2 0.5H9.6V2.6H4.6 M4.6 0.5V6Q4.6 9 3.6 10 M5 4.5H10 M7.5 2.8V6.5 M5.6 6.5H9.6V10H5.6Z" transform="translate(194.3 394) scale(0.58)" stroke="#111" stroke-width="1.24" fill="none" stroke-linecap="butt"/>
<path d="M5 0V1.2 M1 3V1.6H9V3 M3 3.5L4 4.5 M3 5.5L4 6.5 M0.5 7H9.5 M5.5 2.8V7L1 10 M6.2 8L9.6 10" transform="translate(200.3 394) scale(0.58)" stroke="#111" stroke-width="1.24" fill="none" stroke-linecap="butt"/>
<path d="M1 0V10 M1 0.5H3L2 3L3.2 5L1.6 6 M4.5 1H9.5 M4 4H10 M7 4V10L6 9.5 M5.2 6L4 9 M8.8 6L10 9" transform="translate(206.2 394) scale(0.58)" stroke="#111" stroke-width="1.24" fill="none" stroke-linecap="butt"/>
<path d="M5 0V1.2 M1.5 1.6H10 M1.5 1.6V6Q1.5 9 0.3 10 M3.8 4L4.5 7 M6.2 3.5L6.6 7 M9 4L8 7 M2.8 9.5H10" transform="translate(212.2 394) scale(0.58)" stroke="#111" stroke-width="1.24" fill="none" stroke-linecap="butt"/>
<path d="M1 0.6V7.5Q1 9 0.2 10 M1 0.6H9V10L8 9.5 M1 3.6H9 M1 6.6H9 M5 0.6V10" transform="translate(218.6 394) scale(0.58)" stroke="#111" stroke-width="1.24" fill="none" stroke-linecap="butt"/>
<path d="M1.6 8.2L2.8 8.8L2.2 10.4L1.4 11" transform="translate(225.5 394) scale(0.58)" stroke="#111" stroke-width="1.24" fill="none" stroke-linecap="butt"/>
<path d="M0.8 0.8L1.8 2 M0 4H2V8L0.4 9.6 M1 9.2Q4 10 10 10 M4 0.8L3.4 3 M3.5 2.6H9 M6.5 0V5 M3 5H10 M5 5.2L3.6 8.6 M7.6 5.2V8H9.8V7" transform="translate(232.4 394) scale(0.58)" stroke="#111" stroke-width="1.24" fill="none" stroke-linecap="butt"/>
<path d="M0 3H3.2 M1.6 0V9.5L0.8 9 M0 7L3.2 5.5 M4.2 0.5H9.6 M4.6 0.6L9.5 4 M9.4 0.6L4.4 4 M4.8 6H9.4 M4 8H10 M7 4.4V10" transform="translate(239.4 394) scale(0.58)" stroke="#111" stroke-width="1.24" fill="none" stroke-linecap="butt"/>
<path d="M2 0.3H8V4H2Z M2 2.1H8 M0.5 5.6H9.5 M5 5.6V9.4 M5 7.5H8.5 M3 6.5Q2.5 9 1 10 M3 8.6Q5 10 10 10" transform="translate(245.8 394) scale(0.58)" stroke="#111" stroke-width="1.24" fill="none" stroke-linecap="butt"/>
<path d="M0.5 0.6H9.5 M6 0.6L1 5 M5 1.8V5.2 M6.5 2L9.2 4.5 M2 6H8V10H2Z" transform="translate(252.2 394) scale(0.58)" stroke="#111" stroke-width="1.24" fill="none" stroke-linecap="butt"/>
<path d="M3 0L0.2 5 M1.6 3V10 M3.5 1.2H10 M6.8 0V6.2 M4 2.6H9.5V5.4H4Z M5 6.5Q7 9 9.8 10 M9 6.5Q7 9.5 3.5 10" transform="translate(258.6 394) scale(0.58)" stroke="#111" stroke-width="1.24" fill="none" stroke-linecap="butt"/>
<path d="M1 0.6V7.5Q1 9 0.2 10 M1 0.6H9V10L8 9.5 M1 3.6H9 M1 6.6H9 M5 0.6V10" transform="translate(265.1 394) scale(0.58)" stroke="#111" stroke-width="1.24" fill="none" stroke-linecap="butt"/>
<text x="269.9" y="400.3" font-size="7.2" text-anchor="start" fill="#000" textLength="6.8" lengthAdjust="spacingAndGlyphs">L2</text>
<circle cx="278.6" cy="398.8" r="1.1" fill="none" stroke="#222" stroke-width="0.7"/>
</svg></body></html>
